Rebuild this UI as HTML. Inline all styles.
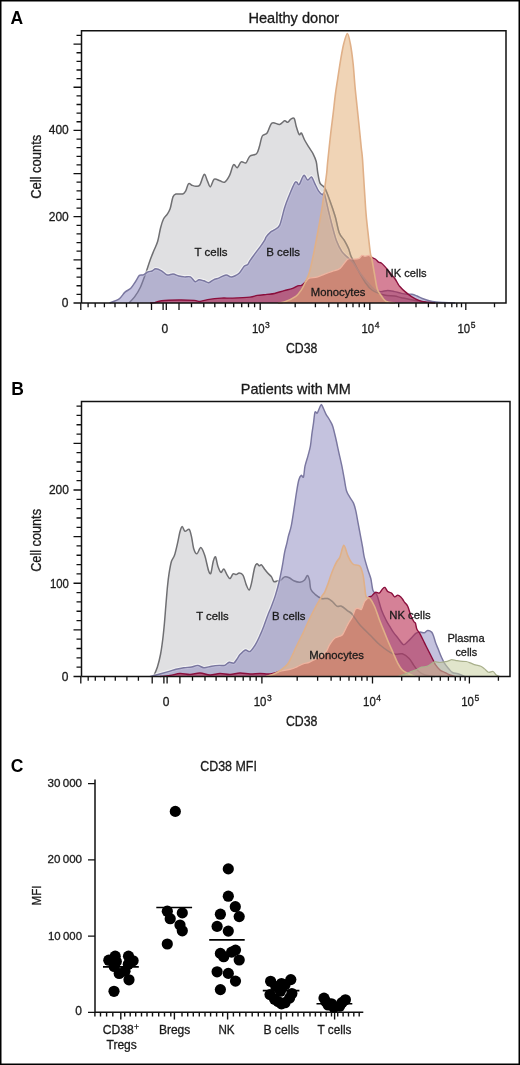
<!DOCTYPE html>
<html><head><meta charset="utf-8"><title>Figure</title>
<style>
html,body{margin:0;padding:0;background:#fff;}
body{width:520px;height:1065px;overflow:hidden;}
svg{display:block;font-family:"Liberation Sans", sans-serif;}
text{opacity:0.999;}
</style></head>
<body>
<svg width="520" height="1065" viewBox="0 0 520 1065">
<rect x="0.75" y="0.75" width="518.5" height="1063.5" fill="#fff" stroke="#000" stroke-width="1.5"/>
<clipPath id="moA"><path d="M278.00,303.0 L278.00,303.00 C278.99,302.84 281.35,303.07 284.20,302.00 C287.05,300.93 293.03,298.28 295.80,296.30 C298.57,294.32 300.03,291.73 301.50,289.60 C302.97,287.47 303.72,285.82 305.00,283.00 C306.28,280.18 308.06,276.96 309.50,272.00 C310.94,267.04 312.64,258.56 314.00,252.00 C315.36,245.44 316.72,238.04 318.00,231.00 C319.28,223.96 320.88,215.20 322.00,208.00 C323.12,200.80 324.23,191.76 325.00,186.00 C325.77,180.24 326.37,175.92 326.80,172.00 C327.23,168.08 327.06,167.79 327.70,161.50 C328.34,155.21 329.94,140.27 330.80,132.70 C331.66,125.13 332.36,120.36 333.10,114.20 C333.84,108.04 334.66,99.86 335.40,94.20 C336.14,88.54 336.84,84.46 337.70,78.80 C338.56,73.14 339.82,64.45 340.80,58.80 C341.78,53.15 342.74,47.55 343.80,43.50 C344.86,39.45 346.36,33.50 347.40,33.50 C348.44,33.50 349.39,38.70 350.30,43.50 C351.21,48.30 352.35,56.62 353.10,63.50 C353.85,70.38 354.39,79.86 355.00,86.50 C355.61,93.14 356.26,98.84 356.90,105.00 C357.54,111.16 358.30,118.12 359.00,125.00 C359.70,131.88 360.72,142.34 361.30,148.00 C361.88,153.66 361.90,150.54 362.60,160.40 C363.30,170.26 364.84,198.03 365.70,209.60 C366.56,221.17 367.25,225.69 368.00,232.70 C368.75,239.71 369.81,249.35 370.40,253.40 C370.99,257.45 371.03,254.61 371.70,258.00 C372.37,261.39 373.70,269.64 374.60,274.60 C375.50,279.56 376.23,285.61 377.30,289.00 C378.37,292.39 379.88,293.80 381.30,295.80 C382.72,297.80 384.01,300.35 386.20,301.50 C388.39,302.65 393.59,302.76 395.00,303.00 L395.00,303.0 Z"/></clipPath>
<mask id="nomoA"><rect x="0" y="0" width="520" height="1065" fill="#fff"/><path d="M278.00,303.0 L278.00,303.00 C278.99,302.84 281.35,303.07 284.20,302.00 C287.05,300.93 293.03,298.28 295.80,296.30 C298.57,294.32 300.03,291.73 301.50,289.60 C302.97,287.47 303.72,285.82 305.00,283.00 C306.28,280.18 308.06,276.96 309.50,272.00 C310.94,267.04 312.64,258.56 314.00,252.00 C315.36,245.44 316.72,238.04 318.00,231.00 C319.28,223.96 320.88,215.20 322.00,208.00 C323.12,200.80 324.23,191.76 325.00,186.00 C325.77,180.24 326.37,175.92 326.80,172.00 C327.23,168.08 327.06,167.79 327.70,161.50 C328.34,155.21 329.94,140.27 330.80,132.70 C331.66,125.13 332.36,120.36 333.10,114.20 C333.84,108.04 334.66,99.86 335.40,94.20 C336.14,88.54 336.84,84.46 337.70,78.80 C338.56,73.14 339.82,64.45 340.80,58.80 C341.78,53.15 342.74,47.55 343.80,43.50 C344.86,39.45 346.36,33.50 347.40,33.50 C348.44,33.50 349.39,38.70 350.30,43.50 C351.21,48.30 352.35,56.62 353.10,63.50 C353.85,70.38 354.39,79.86 355.00,86.50 C355.61,93.14 356.26,98.84 356.90,105.00 C357.54,111.16 358.30,118.12 359.00,125.00 C359.70,131.88 360.72,142.34 361.30,148.00 C361.88,153.66 361.90,150.54 362.60,160.40 C363.30,170.26 364.84,198.03 365.70,209.60 C366.56,221.17 367.25,225.69 368.00,232.70 C368.75,239.71 369.81,249.35 370.40,253.40 C370.99,257.45 371.03,254.61 371.70,258.00 C372.37,261.39 373.70,269.64 374.60,274.60 C375.50,279.56 376.23,285.61 377.30,289.00 C378.37,292.39 379.88,293.80 381.30,295.80 C382.72,297.80 384.01,300.35 386.20,301.50 C388.39,302.65 393.59,302.76 395.00,303.00 L395.00,303.0 Z" fill="#000"/></mask>
<path d="M128.80,303.0 L128.80,303.00 C129.73,302.02 132.74,299.41 134.60,296.90 C136.46,294.39 138.54,291.30 140.40,287.30 C142.26,283.30 144.66,276.20 146.20,271.90 C147.74,267.60 148.78,263.78 150.00,260.40 C151.22,257.02 152.57,253.87 153.80,250.80 C155.03,247.73 156.61,244.90 157.70,241.20 C158.79,237.50 159.67,231.25 160.60,227.70 C161.53,224.15 162.43,221.16 163.50,219.00 C164.57,216.84 166.23,215.88 167.30,214.20 C168.37,212.52 169.29,211.27 170.20,208.50 C171.11,205.73 172.07,199.22 173.00,196.90 C173.93,194.58 174.45,194.46 176.00,194.00 C177.55,193.54 181.16,194.45 182.70,194.00 C184.24,193.55 184.67,192.83 185.60,191.20 C186.53,189.57 187.43,184.73 188.50,183.80 C189.57,182.87 191.10,185.00 192.30,185.40 C193.50,185.80 194.80,186.36 196.00,186.30 C197.20,186.24 198.49,186.90 199.80,185.00 C201.11,183.10 202.97,175.01 204.20,174.40 C205.43,173.79 206.51,179.20 207.50,181.20 C208.49,183.20 209.33,187.22 210.40,186.90 C211.47,186.58 212.66,180.18 214.20,179.20 C215.74,178.22 218.30,180.34 220.00,180.80 C221.70,181.26 223.26,182.96 224.80,182.10 C226.34,181.24 228.21,178.17 229.60,175.40 C230.99,172.63 232.27,166.03 233.50,164.80 C234.73,163.57 236.07,168.16 237.30,167.70 C238.53,167.24 239.81,162.67 241.20,161.90 C242.59,161.13 244.62,163.81 246.00,162.90 C247.38,161.99 248.12,157.66 249.80,156.20 C251.48,154.74 254.96,155.35 256.50,153.80 C258.04,152.25 258.47,149.35 259.40,146.50 C260.33,143.65 261.07,138.16 262.30,136.00 C263.53,133.84 265.56,135.06 267.10,133.00 C268.64,130.94 269.90,124.48 271.90,123.10 C273.90,121.72 277.57,124.77 279.60,124.40 C281.63,124.03 283.30,121.14 284.60,120.80 C285.90,120.46 286.71,122.56 287.70,122.30 C288.69,122.04 289.76,119.81 290.80,119.20 C291.84,118.59 293.34,117.38 294.20,118.50 C295.06,119.62 295.40,123.62 296.20,126.20 C297.00,128.78 298.35,133.50 299.20,134.60 C300.05,135.70 300.64,132.24 301.50,133.10 C302.36,133.96 303.37,137.66 304.60,140.00 C305.83,142.34 307.84,145.49 309.20,147.70 C310.56,149.91 311.98,151.59 313.10,153.80 C314.22,156.01 315.46,158.54 316.20,161.50 C316.94,164.46 317.09,168.84 317.70,172.30 C318.31,175.76 318.90,180.64 320.00,183.10 C321.10,185.56 323.03,184.93 324.60,187.70 C326.17,190.47 328.10,195.79 329.80,200.40 C331.50,205.01 333.70,211.33 335.20,216.50 C336.70,221.67 337.70,228.81 339.20,232.70 C340.70,236.59 343.10,238.22 344.60,240.80 C346.10,243.38 347.53,246.22 348.60,248.80 C349.67,251.38 349.80,253.51 351.30,256.90 C352.80,260.29 355.81,265.98 358.00,270.00 C360.19,274.02 362.76,278.80 365.00,282.00 C367.24,285.20 368.93,287.92 372.00,290.00 C375.07,292.08 380.58,294.04 384.20,295.00 C387.82,295.96 391.83,295.57 394.60,296.00 C397.37,296.43 398.24,296.98 401.50,297.70 C404.76,298.42 410.44,299.73 415.00,300.50 C419.56,301.27 425.20,302.10 430.00,302.50 C434.80,302.90 442.60,302.92 445.00,303.00 L445.00,303.0 Z" fill="#e0e0e2"/>
<path d="M128.80,303.00 C129.73,302.02 132.74,299.41 134.60,296.90 C136.46,294.39 138.54,291.30 140.40,287.30 C142.26,283.30 144.66,276.20 146.20,271.90 C147.74,267.60 148.78,263.78 150.00,260.40 C151.22,257.02 152.57,253.87 153.80,250.80 C155.03,247.73 156.61,244.90 157.70,241.20 C158.79,237.50 159.67,231.25 160.60,227.70 C161.53,224.15 162.43,221.16 163.50,219.00 C164.57,216.84 166.23,215.88 167.30,214.20 C168.37,212.52 169.29,211.27 170.20,208.50 C171.11,205.73 172.07,199.22 173.00,196.90 C173.93,194.58 174.45,194.46 176.00,194.00 C177.55,193.54 181.16,194.45 182.70,194.00 C184.24,193.55 184.67,192.83 185.60,191.20 C186.53,189.57 187.43,184.73 188.50,183.80 C189.57,182.87 191.10,185.00 192.30,185.40 C193.50,185.80 194.80,186.36 196.00,186.30 C197.20,186.24 198.49,186.90 199.80,185.00 C201.11,183.10 202.97,175.01 204.20,174.40 C205.43,173.79 206.51,179.20 207.50,181.20 C208.49,183.20 209.33,187.22 210.40,186.90 C211.47,186.58 212.66,180.18 214.20,179.20 C215.74,178.22 218.30,180.34 220.00,180.80 C221.70,181.26 223.26,182.96 224.80,182.10 C226.34,181.24 228.21,178.17 229.60,175.40 C230.99,172.63 232.27,166.03 233.50,164.80 C234.73,163.57 236.07,168.16 237.30,167.70 C238.53,167.24 239.81,162.67 241.20,161.90 C242.59,161.13 244.62,163.81 246.00,162.90 C247.38,161.99 248.12,157.66 249.80,156.20 C251.48,154.74 254.96,155.35 256.50,153.80 C258.04,152.25 258.47,149.35 259.40,146.50 C260.33,143.65 261.07,138.16 262.30,136.00 C263.53,133.84 265.56,135.06 267.10,133.00 C268.64,130.94 269.90,124.48 271.90,123.10 C273.90,121.72 277.57,124.77 279.60,124.40 C281.63,124.03 283.30,121.14 284.60,120.80 C285.90,120.46 286.71,122.56 287.70,122.30 C288.69,122.04 289.76,119.81 290.80,119.20 C291.84,118.59 293.34,117.38 294.20,118.50 C295.06,119.62 295.40,123.62 296.20,126.20 C297.00,128.78 298.35,133.50 299.20,134.60 C300.05,135.70 300.64,132.24 301.50,133.10 C302.36,133.96 303.37,137.66 304.60,140.00 C305.83,142.34 307.84,145.49 309.20,147.70 C310.56,149.91 311.98,151.59 313.10,153.80 C314.22,156.01 315.46,158.54 316.20,161.50 C316.94,164.46 317.09,168.84 317.70,172.30 C318.31,175.76 318.90,180.64 320.00,183.10 C321.10,185.56 323.03,184.93 324.60,187.70 C326.17,190.47 328.10,195.79 329.80,200.40 C331.50,205.01 333.70,211.33 335.20,216.50 C336.70,221.67 337.70,228.81 339.20,232.70 C340.70,236.59 343.10,238.22 344.60,240.80 C346.10,243.38 347.53,246.22 348.60,248.80 C349.67,251.38 349.80,253.51 351.30,256.90 C352.80,260.29 355.81,265.98 358.00,270.00 C360.19,274.02 362.76,278.80 365.00,282.00 C367.24,285.20 368.93,287.92 372.00,290.00 C375.07,292.08 380.58,294.04 384.20,295.00 C387.82,295.96 391.83,295.57 394.60,296.00 C397.37,296.43 398.24,296.98 401.50,297.70 C404.76,298.42 410.44,299.73 415.00,300.50 C419.56,301.27 425.20,302.10 430.00,302.50 C434.80,302.90 442.60,302.92 445.00,303.00" fill="none" stroke="#6f6f72" stroke-width="1.5" stroke-linejoin="round"/>
<path d="M109.60,303.00 C111.14,302.33 116.74,300.54 119.20,298.80 C121.66,297.06 123.14,293.78 125.00,292.10 C126.86,290.42 129.10,290.00 130.80,288.30 C132.50,286.60 134.22,283.56 135.60,281.50 C136.98,279.44 138.17,276.47 139.40,275.40 C140.63,274.33 141.92,275.36 143.30,274.80 C144.68,274.24 146.61,272.51 148.00,271.90 C149.39,271.29 150.75,271.50 152.00,271.00 C153.25,270.50 154.28,268.83 155.80,268.80 C157.32,268.77 159.66,269.81 161.50,270.80 C163.34,271.79 165.44,274.49 167.30,275.00 C169.16,275.51 171.26,273.84 173.10,274.00 C174.94,274.16 176.96,275.54 178.80,276.00 C180.64,276.46 182.74,276.76 184.60,276.90 C186.46,277.04 188.70,276.13 190.40,276.90 C192.10,277.67 193.82,281.24 195.20,281.70 C196.58,282.16 197.62,279.94 199.00,279.80 C200.38,279.66 202.25,280.34 203.80,280.80 C205.35,281.26 207.15,282.86 208.70,282.70 C210.25,282.54 211.82,280.57 213.50,279.80 C215.18,279.03 217.20,278.67 219.20,277.90 C221.20,277.13 224.14,275.16 226.00,275.00 C227.86,274.84 229.42,276.74 230.80,276.90 C232.18,277.06 233.22,276.62 234.60,276.00 C235.98,275.38 237.86,274.55 239.40,273.00 C240.94,271.45 242.87,267.64 244.20,266.30 C245.53,264.96 246.77,265.51 247.70,264.60 C248.63,263.69 248.77,262.44 250.00,260.60 C251.23,258.76 253.61,255.53 255.40,253.10 C257.19,250.67 259.66,247.56 261.20,245.40 C262.74,243.24 264.20,240.96 265.00,239.60 C265.80,238.24 265.27,238.13 266.20,236.90 C267.13,235.67 269.58,232.97 270.80,231.90 C272.02,230.83 272.39,231.24 273.80,230.20 C275.21,229.16 277.87,229.00 279.60,225.40 C281.33,221.80 283.06,212.50 284.60,207.70 C286.14,202.90 287.60,199.34 289.20,195.40 C290.80,191.46 293.37,185.20 294.60,183.10 C295.83,181.00 296.16,182.06 296.90,182.30 C297.64,182.54 298.10,185.70 299.20,184.60 C300.30,183.50 302.44,176.14 303.80,175.40 C305.16,174.66 306.47,179.76 307.70,180.00 C308.93,180.24 310.40,176.40 311.50,176.90 C312.60,177.40 313.48,180.88 314.60,183.10 C315.72,185.32 317.27,188.96 318.50,190.80 C319.73,192.64 321.36,194.09 322.30,194.60 C323.24,195.11 323.41,191.38 324.40,194.00 C325.39,196.62 327.20,205.72 328.50,211.00 C329.80,216.28 331.22,222.23 332.50,227.00 C333.78,231.77 335.00,236.86 336.50,240.80 C338.00,244.74 339.96,248.80 341.90,251.60 C343.84,254.40 346.87,256.59 348.60,258.30 C350.33,260.01 350.88,259.95 352.70,262.30 C354.52,264.65 357.55,269.69 360.00,273.00 C362.45,276.31 365.60,280.28 368.00,283.00 C370.40,285.72 372.95,288.62 375.00,290.00 C377.05,291.38 378.77,291.54 380.80,291.60 C382.83,291.66 385.49,290.40 387.70,290.40 C389.91,290.40 392.39,291.12 394.60,291.60 C396.81,292.08 399.56,292.98 401.50,293.40 C403.44,293.82 405.04,294.07 406.70,294.20 C408.36,294.33 410.24,293.91 411.90,294.20 C413.56,294.49 415.44,295.31 417.10,296.00 C418.76,296.69 420.36,297.73 422.30,298.50 C424.24,299.27 426.99,300.24 429.20,300.80 C431.41,301.36 433.89,301.73 436.10,302.00 C438.31,302.27 439.98,302.34 443.00,302.50 C446.02,302.66 453.08,302.92 455.00,303.00" fill="none" stroke="rgba(255,255,255,0.55)" stroke-width="3.6" stroke-linejoin="round"/>
<path d="M109.60,303.0 L109.60,303.00 C111.14,302.33 116.74,300.54 119.20,298.80 C121.66,297.06 123.14,293.78 125.00,292.10 C126.86,290.42 129.10,290.00 130.80,288.30 C132.50,286.60 134.22,283.56 135.60,281.50 C136.98,279.44 138.17,276.47 139.40,275.40 C140.63,274.33 141.92,275.36 143.30,274.80 C144.68,274.24 146.61,272.51 148.00,271.90 C149.39,271.29 150.75,271.50 152.00,271.00 C153.25,270.50 154.28,268.83 155.80,268.80 C157.32,268.77 159.66,269.81 161.50,270.80 C163.34,271.79 165.44,274.49 167.30,275.00 C169.16,275.51 171.26,273.84 173.10,274.00 C174.94,274.16 176.96,275.54 178.80,276.00 C180.64,276.46 182.74,276.76 184.60,276.90 C186.46,277.04 188.70,276.13 190.40,276.90 C192.10,277.67 193.82,281.24 195.20,281.70 C196.58,282.16 197.62,279.94 199.00,279.80 C200.38,279.66 202.25,280.34 203.80,280.80 C205.35,281.26 207.15,282.86 208.70,282.70 C210.25,282.54 211.82,280.57 213.50,279.80 C215.18,279.03 217.20,278.67 219.20,277.90 C221.20,277.13 224.14,275.16 226.00,275.00 C227.86,274.84 229.42,276.74 230.80,276.90 C232.18,277.06 233.22,276.62 234.60,276.00 C235.98,275.38 237.86,274.55 239.40,273.00 C240.94,271.45 242.87,267.64 244.20,266.30 C245.53,264.96 246.77,265.51 247.70,264.60 C248.63,263.69 248.77,262.44 250.00,260.60 C251.23,258.76 253.61,255.53 255.40,253.10 C257.19,250.67 259.66,247.56 261.20,245.40 C262.74,243.24 264.20,240.96 265.00,239.60 C265.80,238.24 265.27,238.13 266.20,236.90 C267.13,235.67 269.58,232.97 270.80,231.90 C272.02,230.83 272.39,231.24 273.80,230.20 C275.21,229.16 277.87,229.00 279.60,225.40 C281.33,221.80 283.06,212.50 284.60,207.70 C286.14,202.90 287.60,199.34 289.20,195.40 C290.80,191.46 293.37,185.20 294.60,183.10 C295.83,181.00 296.16,182.06 296.90,182.30 C297.64,182.54 298.10,185.70 299.20,184.60 C300.30,183.50 302.44,176.14 303.80,175.40 C305.16,174.66 306.47,179.76 307.70,180.00 C308.93,180.24 310.40,176.40 311.50,176.90 C312.60,177.40 313.48,180.88 314.60,183.10 C315.72,185.32 317.27,188.96 318.50,190.80 C319.73,192.64 321.36,194.09 322.30,194.60 C323.24,195.11 323.41,191.38 324.40,194.00 C325.39,196.62 327.20,205.72 328.50,211.00 C329.80,216.28 331.22,222.23 332.50,227.00 C333.78,231.77 335.00,236.86 336.50,240.80 C338.00,244.74 339.96,248.80 341.90,251.60 C343.84,254.40 346.87,256.59 348.60,258.30 C350.33,260.01 350.88,259.95 352.70,262.30 C354.52,264.65 357.55,269.69 360.00,273.00 C362.45,276.31 365.60,280.28 368.00,283.00 C370.40,285.72 372.95,288.62 375.00,290.00 C377.05,291.38 378.77,291.54 380.80,291.60 C382.83,291.66 385.49,290.40 387.70,290.40 C389.91,290.40 392.39,291.12 394.60,291.60 C396.81,292.08 399.56,292.98 401.50,293.40 C403.44,293.82 405.04,294.07 406.70,294.20 C408.36,294.33 410.24,293.91 411.90,294.20 C413.56,294.49 415.44,295.31 417.10,296.00 C418.76,296.69 420.36,297.73 422.30,298.50 C424.24,299.27 426.99,300.24 429.20,300.80 C431.41,301.36 433.89,301.73 436.10,302.00 C438.31,302.27 439.98,302.34 443.00,302.50 C446.02,302.66 453.08,302.92 455.00,303.00 L455.00,303.0 Z" fill="rgba(132,128,186,0.48)"/>
<path d="M109.60,303.00 C111.14,302.33 116.74,300.54 119.20,298.80 C121.66,297.06 123.14,293.78 125.00,292.10 C126.86,290.42 129.10,290.00 130.80,288.30 C132.50,286.60 134.22,283.56 135.60,281.50 C136.98,279.44 138.17,276.47 139.40,275.40 C140.63,274.33 141.92,275.36 143.30,274.80 C144.68,274.24 146.61,272.51 148.00,271.90 C149.39,271.29 150.75,271.50 152.00,271.00 C153.25,270.50 154.28,268.83 155.80,268.80 C157.32,268.77 159.66,269.81 161.50,270.80 C163.34,271.79 165.44,274.49 167.30,275.00 C169.16,275.51 171.26,273.84 173.10,274.00 C174.94,274.16 176.96,275.54 178.80,276.00 C180.64,276.46 182.74,276.76 184.60,276.90 C186.46,277.04 188.70,276.13 190.40,276.90 C192.10,277.67 193.82,281.24 195.20,281.70 C196.58,282.16 197.62,279.94 199.00,279.80 C200.38,279.66 202.25,280.34 203.80,280.80 C205.35,281.26 207.15,282.86 208.70,282.70 C210.25,282.54 211.82,280.57 213.50,279.80 C215.18,279.03 217.20,278.67 219.20,277.90 C221.20,277.13 224.14,275.16 226.00,275.00 C227.86,274.84 229.42,276.74 230.80,276.90 C232.18,277.06 233.22,276.62 234.60,276.00 C235.98,275.38 237.86,274.55 239.40,273.00 C240.94,271.45 242.87,267.64 244.20,266.30 C245.53,264.96 246.77,265.51 247.70,264.60 C248.63,263.69 248.77,262.44 250.00,260.60 C251.23,258.76 253.61,255.53 255.40,253.10 C257.19,250.67 259.66,247.56 261.20,245.40 C262.74,243.24 264.20,240.96 265.00,239.60 C265.80,238.24 265.27,238.13 266.20,236.90 C267.13,235.67 269.58,232.97 270.80,231.90 C272.02,230.83 272.39,231.24 273.80,230.20 C275.21,229.16 277.87,229.00 279.60,225.40 C281.33,221.80 283.06,212.50 284.60,207.70 C286.14,202.90 287.60,199.34 289.20,195.40 C290.80,191.46 293.37,185.20 294.60,183.10 C295.83,181.00 296.16,182.06 296.90,182.30 C297.64,182.54 298.10,185.70 299.20,184.60 C300.30,183.50 302.44,176.14 303.80,175.40 C305.16,174.66 306.47,179.76 307.70,180.00 C308.93,180.24 310.40,176.40 311.50,176.90 C312.60,177.40 313.48,180.88 314.60,183.10 C315.72,185.32 317.27,188.96 318.50,190.80 C319.73,192.64 321.36,194.09 322.30,194.60 C323.24,195.11 323.41,191.38 324.40,194.00 C325.39,196.62 327.20,205.72 328.50,211.00 C329.80,216.28 331.22,222.23 332.50,227.00 C333.78,231.77 335.00,236.86 336.50,240.80 C338.00,244.74 339.96,248.80 341.90,251.60 C343.84,254.40 346.87,256.59 348.60,258.30 C350.33,260.01 350.88,259.95 352.70,262.30 C354.52,264.65 357.55,269.69 360.00,273.00 C362.45,276.31 365.60,280.28 368.00,283.00 C370.40,285.72 372.95,288.62 375.00,290.00 C377.05,291.38 378.77,291.54 380.80,291.60 C382.83,291.66 385.49,290.40 387.70,290.40 C389.91,290.40 392.39,291.12 394.60,291.60 C396.81,292.08 399.56,292.98 401.50,293.40 C403.44,293.82 405.04,294.07 406.70,294.20 C408.36,294.33 410.24,293.91 411.90,294.20 C413.56,294.49 415.44,295.31 417.10,296.00 C418.76,296.69 420.36,297.73 422.30,298.50 C424.24,299.27 426.99,300.24 429.20,300.80 C431.41,301.36 433.89,301.73 436.10,302.00 C438.31,302.27 439.98,302.34 443.00,302.50 C446.02,302.66 453.08,302.92 455.00,303.00" fill="none" stroke="#7a77a0" stroke-width="1.45" stroke-linejoin="round"/>
<path d="M150.00,303.0 L150.00,303.00 C150.80,302.94 153.16,302.95 155.00,302.60 C156.84,302.25 157.69,301.22 161.50,300.80 C165.31,300.38 173.57,300.06 178.80,300.00 C184.03,299.94 190.81,300.16 194.20,300.40 C197.59,300.64 197.84,301.63 200.00,301.50 C202.16,301.37 204.31,300.14 207.70,299.60 C211.09,299.06 217.20,298.34 221.20,298.10 C225.20,297.86 228.09,298.26 232.70,298.10 C237.31,297.94 246.06,297.53 250.00,297.10 C253.94,296.67 254.60,295.83 257.30,295.40 C260.00,294.97 264.13,294.70 266.90,294.40 C269.67,294.10 271.83,294.11 274.60,293.50 C277.37,292.89 281.43,291.37 284.20,290.60 C286.97,289.83 289.74,289.47 291.90,288.70 C294.06,287.93 296.16,286.33 297.70,285.80 C299.24,285.27 300.27,286.02 301.50,285.40 C302.73,284.78 304.17,283.07 305.40,281.90 C306.63,280.73 307.36,278.87 309.20,278.10 C311.04,277.33 314.44,277.72 316.90,277.10 C319.36,276.48 322.14,275.13 324.60,274.20 C327.06,273.27 329.84,272.21 332.30,271.30 C334.76,270.39 337.54,270.44 340.00,268.50 C342.46,266.56 345.54,260.69 347.70,259.20 C349.86,257.71 351.66,259.34 353.50,259.20 C355.34,259.06 357.84,258.91 359.20,258.30 C360.56,257.69 361.07,255.72 362.00,255.40 C362.93,255.08 363.91,256.30 365.00,256.30 C366.09,256.30 367.73,255.24 368.80,255.40 C369.87,255.56 370.61,256.69 371.70,257.30 C372.79,257.91 374.51,258.43 375.60,259.20 C376.69,259.97 377.59,261.49 378.50,262.10 C379.41,262.71 380.23,262.23 381.30,263.00 C382.37,263.77 383.81,265.35 385.20,266.90 C386.59,268.45 388.46,270.84 390.00,272.70 C391.54,274.56 393.52,276.72 394.80,278.50 C396.08,280.28 397.23,282.57 398.00,283.80 C398.77,285.03 398.48,284.95 399.60,286.20 C400.72,287.45 403.03,289.90 405.00,291.60 C406.97,293.30 409.69,295.41 411.90,296.80 C414.11,298.19 416.59,299.47 418.80,300.30 C421.01,301.13 423.11,301.57 425.70,302.00 C428.29,302.43 433.51,302.84 435.00,303.00 L435.00,303.0 Z" fill="rgba(180,30,70,0.56)"/>
<path d="M278.00,303.0 L278.00,303.00 C278.99,302.84 281.35,303.07 284.20,302.00 C287.05,300.93 293.03,298.28 295.80,296.30 C298.57,294.32 300.03,291.73 301.50,289.60 C302.97,287.47 303.72,285.82 305.00,283.00 C306.28,280.18 308.06,276.96 309.50,272.00 C310.94,267.04 312.64,258.56 314.00,252.00 C315.36,245.44 316.72,238.04 318.00,231.00 C319.28,223.96 320.88,215.20 322.00,208.00 C323.12,200.80 324.23,191.76 325.00,186.00 C325.77,180.24 326.37,175.92 326.80,172.00 C327.23,168.08 327.06,167.79 327.70,161.50 C328.34,155.21 329.94,140.27 330.80,132.70 C331.66,125.13 332.36,120.36 333.10,114.20 C333.84,108.04 334.66,99.86 335.40,94.20 C336.14,88.54 336.84,84.46 337.70,78.80 C338.56,73.14 339.82,64.45 340.80,58.80 C341.78,53.15 342.74,47.55 343.80,43.50 C344.86,39.45 346.36,33.50 347.40,33.50 C348.44,33.50 349.39,38.70 350.30,43.50 C351.21,48.30 352.35,56.62 353.10,63.50 C353.85,70.38 354.39,79.86 355.00,86.50 C355.61,93.14 356.26,98.84 356.90,105.00 C357.54,111.16 358.30,118.12 359.00,125.00 C359.70,131.88 360.72,142.34 361.30,148.00 C361.88,153.66 361.90,150.54 362.60,160.40 C363.30,170.26 364.84,198.03 365.70,209.60 C366.56,221.17 367.25,225.69 368.00,232.70 C368.75,239.71 369.81,249.35 370.40,253.40 C370.99,257.45 371.03,254.61 371.70,258.00 C372.37,261.39 373.70,269.64 374.60,274.60 C375.50,279.56 376.23,285.61 377.30,289.00 C378.37,292.39 379.88,293.80 381.30,295.80 C382.72,297.80 384.01,300.35 386.20,301.50 C388.39,302.65 393.59,302.76 395.00,303.00 L395.00,303.0 Z" fill="rgba(230,182,131,0.59)"/>
<path d="M150.00,303.0 L150.00,303.00 C150.80,302.94 153.16,302.95 155.00,302.60 C156.84,302.25 157.69,301.22 161.50,300.80 C165.31,300.38 173.57,300.06 178.80,300.00 C184.03,299.94 190.81,300.16 194.20,300.40 C197.59,300.64 197.84,301.63 200.00,301.50 C202.16,301.37 204.31,300.14 207.70,299.60 C211.09,299.06 217.20,298.34 221.20,298.10 C225.20,297.86 228.09,298.26 232.70,298.10 C237.31,297.94 246.06,297.53 250.00,297.10 C253.94,296.67 254.60,295.83 257.30,295.40 C260.00,294.97 264.13,294.70 266.90,294.40 C269.67,294.10 271.83,294.11 274.60,293.50 C277.37,292.89 281.43,291.37 284.20,290.60 C286.97,289.83 289.74,289.47 291.90,288.70 C294.06,287.93 296.16,286.33 297.70,285.80 C299.24,285.27 300.27,286.02 301.50,285.40 C302.73,284.78 304.17,283.07 305.40,281.90 C306.63,280.73 307.36,278.87 309.20,278.10 C311.04,277.33 314.44,277.72 316.90,277.10 C319.36,276.48 322.14,275.13 324.60,274.20 C327.06,273.27 329.84,272.21 332.30,271.30 C334.76,270.39 337.54,270.44 340.00,268.50 C342.46,266.56 345.54,260.69 347.70,259.20 C349.86,257.71 351.66,259.34 353.50,259.20 C355.34,259.06 357.84,258.91 359.20,258.30 C360.56,257.69 361.07,255.72 362.00,255.40 C362.93,255.08 363.91,256.30 365.00,256.30 C366.09,256.30 367.73,255.24 368.80,255.40 C369.87,255.56 370.61,256.69 371.70,257.30 C372.79,257.91 374.51,258.43 375.60,259.20 C376.69,259.97 377.59,261.49 378.50,262.10 C379.41,262.71 380.23,262.23 381.30,263.00 C382.37,263.77 383.81,265.35 385.20,266.90 C386.59,268.45 388.46,270.84 390.00,272.70 C391.54,274.56 393.52,276.72 394.80,278.50 C396.08,280.28 397.23,282.57 398.00,283.80 C398.77,285.03 398.48,284.95 399.60,286.20 C400.72,287.45 403.03,289.90 405.00,291.60 C406.97,293.30 409.69,295.41 411.90,296.80 C414.11,298.19 416.59,299.47 418.80,300.30 C421.01,301.13 423.11,301.57 425.70,302.00 C428.29,302.43 433.51,302.84 435.00,303.00 L435.00,303.0 Z" fill="rgba(203,133,116,0.82)" clip-path="url(#moA)"/>
<path d="M150.00,303.00 C150.80,302.94 153.16,302.95 155.00,302.60 C156.84,302.25 157.69,301.22 161.50,300.80 C165.31,300.38 173.57,300.06 178.80,300.00 C184.03,299.94 190.81,300.16 194.20,300.40 C197.59,300.64 197.84,301.63 200.00,301.50 C202.16,301.37 204.31,300.14 207.70,299.60 C211.09,299.06 217.20,298.34 221.20,298.10 C225.20,297.86 228.09,298.26 232.70,298.10 C237.31,297.94 246.06,297.53 250.00,297.10 C253.94,296.67 254.60,295.83 257.30,295.40 C260.00,294.97 264.13,294.70 266.90,294.40 C269.67,294.10 271.83,294.11 274.60,293.50 C277.37,292.89 281.43,291.37 284.20,290.60 C286.97,289.83 289.74,289.47 291.90,288.70 C294.06,287.93 296.16,286.33 297.70,285.80 C299.24,285.27 300.27,286.02 301.50,285.40 C302.73,284.78 304.17,283.07 305.40,281.90 C306.63,280.73 307.36,278.87 309.20,278.10 C311.04,277.33 314.44,277.72 316.90,277.10 C319.36,276.48 322.14,275.13 324.60,274.20 C327.06,273.27 329.84,272.21 332.30,271.30 C334.76,270.39 337.54,270.44 340.00,268.50 C342.46,266.56 345.54,260.69 347.70,259.20 C349.86,257.71 351.66,259.34 353.50,259.20 C355.34,259.06 357.84,258.91 359.20,258.30 C360.56,257.69 361.07,255.72 362.00,255.40 C362.93,255.08 363.91,256.30 365.00,256.30 C366.09,256.30 367.73,255.24 368.80,255.40 C369.87,255.56 370.61,256.69 371.70,257.30 C372.79,257.91 374.51,258.43 375.60,259.20 C376.69,259.97 377.59,261.49 378.50,262.10 C379.41,262.71 380.23,262.23 381.30,263.00 C382.37,263.77 383.81,265.35 385.20,266.90 C386.59,268.45 388.46,270.84 390.00,272.70 C391.54,274.56 393.52,276.72 394.80,278.50 C396.08,280.28 397.23,282.57 398.00,283.80 C398.77,285.03 398.48,284.95 399.60,286.20 C400.72,287.45 403.03,289.90 405.00,291.60 C406.97,293.30 409.69,295.41 411.90,296.80 C414.11,298.19 416.59,299.47 418.80,300.30 C421.01,301.13 423.11,301.57 425.70,302.00 C428.29,302.43 433.51,302.84 435.00,303.00" fill="none" stroke="#8a0e3c" stroke-width="1.4" stroke-linejoin="round" mask="url(#nomoA)"/>
<path d="M150.00,303.00 C150.80,302.94 153.16,302.95 155.00,302.60 C156.84,302.25 157.69,301.22 161.50,300.80 C165.31,300.38 173.57,300.06 178.80,300.00 C184.03,299.94 190.81,300.16 194.20,300.40 C197.59,300.64 197.84,301.63 200.00,301.50 C202.16,301.37 204.31,300.14 207.70,299.60 C211.09,299.06 217.20,298.34 221.20,298.10 C225.20,297.86 228.09,298.26 232.70,298.10 C237.31,297.94 246.06,297.53 250.00,297.10 C253.94,296.67 254.60,295.83 257.30,295.40 C260.00,294.97 264.13,294.70 266.90,294.40 C269.67,294.10 271.83,294.11 274.60,293.50 C277.37,292.89 281.43,291.37 284.20,290.60 C286.97,289.83 289.74,289.47 291.90,288.70 C294.06,287.93 296.16,286.33 297.70,285.80 C299.24,285.27 300.27,286.02 301.50,285.40 C302.73,284.78 304.17,283.07 305.40,281.90 C306.63,280.73 307.36,278.87 309.20,278.10 C311.04,277.33 314.44,277.72 316.90,277.10 C319.36,276.48 322.14,275.13 324.60,274.20 C327.06,273.27 329.84,272.21 332.30,271.30 C334.76,270.39 337.54,270.44 340.00,268.50 C342.46,266.56 345.54,260.69 347.70,259.20 C349.86,257.71 351.66,259.34 353.50,259.20 C355.34,259.06 357.84,258.91 359.20,258.30 C360.56,257.69 361.07,255.72 362.00,255.40 C362.93,255.08 363.91,256.30 365.00,256.30 C366.09,256.30 367.73,255.24 368.80,255.40 C369.87,255.56 370.61,256.69 371.70,257.30 C372.79,257.91 374.51,258.43 375.60,259.20 C376.69,259.97 377.59,261.49 378.50,262.10 C379.41,262.71 380.23,262.23 381.30,263.00 C382.37,263.77 383.81,265.35 385.20,266.90 C386.59,268.45 388.46,270.84 390.00,272.70 C391.54,274.56 393.52,276.72 394.80,278.50 C396.08,280.28 397.23,282.57 398.00,283.80 C398.77,285.03 398.48,284.95 399.60,286.20 C400.72,287.45 403.03,289.90 405.00,291.60 C406.97,293.30 409.69,295.41 411.90,296.80 C414.11,298.19 416.59,299.47 418.80,300.30 C421.01,301.13 423.11,301.57 425.70,302.00 C428.29,302.43 433.51,302.84 435.00,303.00" fill="none" stroke="#efb4a0" stroke-width="1.3" stroke-linejoin="round" clip-path="url(#moA)"/>
<g clip-path="url(#moA)" opacity="0.4"><path d="M128.80,303.00 C129.73,302.02 132.74,299.41 134.60,296.90 C136.46,294.39 138.54,291.30 140.40,287.30 C142.26,283.30 144.66,276.20 146.20,271.90 C147.74,267.60 148.78,263.78 150.00,260.40 C151.22,257.02 152.57,253.87 153.80,250.80 C155.03,247.73 156.61,244.90 157.70,241.20 C158.79,237.50 159.67,231.25 160.60,227.70 C161.53,224.15 162.43,221.16 163.50,219.00 C164.57,216.84 166.23,215.88 167.30,214.20 C168.37,212.52 169.29,211.27 170.20,208.50 C171.11,205.73 172.07,199.22 173.00,196.90 C173.93,194.58 174.45,194.46 176.00,194.00 C177.55,193.54 181.16,194.45 182.70,194.00 C184.24,193.55 184.67,192.83 185.60,191.20 C186.53,189.57 187.43,184.73 188.50,183.80 C189.57,182.87 191.10,185.00 192.30,185.40 C193.50,185.80 194.80,186.36 196.00,186.30 C197.20,186.24 198.49,186.90 199.80,185.00 C201.11,183.10 202.97,175.01 204.20,174.40 C205.43,173.79 206.51,179.20 207.50,181.20 C208.49,183.20 209.33,187.22 210.40,186.90 C211.47,186.58 212.66,180.18 214.20,179.20 C215.74,178.22 218.30,180.34 220.00,180.80 C221.70,181.26 223.26,182.96 224.80,182.10 C226.34,181.24 228.21,178.17 229.60,175.40 C230.99,172.63 232.27,166.03 233.50,164.80 C234.73,163.57 236.07,168.16 237.30,167.70 C238.53,167.24 239.81,162.67 241.20,161.90 C242.59,161.13 244.62,163.81 246.00,162.90 C247.38,161.99 248.12,157.66 249.80,156.20 C251.48,154.74 254.96,155.35 256.50,153.80 C258.04,152.25 258.47,149.35 259.40,146.50 C260.33,143.65 261.07,138.16 262.30,136.00 C263.53,133.84 265.56,135.06 267.10,133.00 C268.64,130.94 269.90,124.48 271.90,123.10 C273.90,121.72 277.57,124.77 279.60,124.40 C281.63,124.03 283.30,121.14 284.60,120.80 C285.90,120.46 286.71,122.56 287.70,122.30 C288.69,122.04 289.76,119.81 290.80,119.20 C291.84,118.59 293.34,117.38 294.20,118.50 C295.06,119.62 295.40,123.62 296.20,126.20 C297.00,128.78 298.35,133.50 299.20,134.60 C300.05,135.70 300.64,132.24 301.50,133.10 C302.36,133.96 303.37,137.66 304.60,140.00 C305.83,142.34 307.84,145.49 309.20,147.70 C310.56,149.91 311.98,151.59 313.10,153.80 C314.22,156.01 315.46,158.54 316.20,161.50 C316.94,164.46 317.09,168.84 317.70,172.30 C318.31,175.76 318.90,180.64 320.00,183.10 C321.10,185.56 323.03,184.93 324.60,187.70 C326.17,190.47 328.10,195.79 329.80,200.40 C331.50,205.01 333.70,211.33 335.20,216.50 C336.70,221.67 337.70,228.81 339.20,232.70 C340.70,236.59 343.10,238.22 344.60,240.80 C346.10,243.38 347.53,246.22 348.60,248.80 C349.67,251.38 349.80,253.51 351.30,256.90 C352.80,260.29 355.81,265.98 358.00,270.00 C360.19,274.02 362.76,278.80 365.00,282.00 C367.24,285.20 368.93,287.92 372.00,290.00 C375.07,292.08 380.58,294.04 384.20,295.00 C387.82,295.96 391.83,295.57 394.60,296.00 C397.37,296.43 398.24,296.98 401.50,297.70 C404.76,298.42 410.44,299.73 415.00,300.50 C419.56,301.27 425.20,302.10 430.00,302.50 C434.80,302.90 442.60,302.92 445.00,303.00" fill="none" stroke="#6f6f72" stroke-width="1.5" stroke-linejoin="round"/><path d="M109.60,303.00 C111.14,302.33 116.74,300.54 119.20,298.80 C121.66,297.06 123.14,293.78 125.00,292.10 C126.86,290.42 129.10,290.00 130.80,288.30 C132.50,286.60 134.22,283.56 135.60,281.50 C136.98,279.44 138.17,276.47 139.40,275.40 C140.63,274.33 141.92,275.36 143.30,274.80 C144.68,274.24 146.61,272.51 148.00,271.90 C149.39,271.29 150.75,271.50 152.00,271.00 C153.25,270.50 154.28,268.83 155.80,268.80 C157.32,268.77 159.66,269.81 161.50,270.80 C163.34,271.79 165.44,274.49 167.30,275.00 C169.16,275.51 171.26,273.84 173.10,274.00 C174.94,274.16 176.96,275.54 178.80,276.00 C180.64,276.46 182.74,276.76 184.60,276.90 C186.46,277.04 188.70,276.13 190.40,276.90 C192.10,277.67 193.82,281.24 195.20,281.70 C196.58,282.16 197.62,279.94 199.00,279.80 C200.38,279.66 202.25,280.34 203.80,280.80 C205.35,281.26 207.15,282.86 208.70,282.70 C210.25,282.54 211.82,280.57 213.50,279.80 C215.18,279.03 217.20,278.67 219.20,277.90 C221.20,277.13 224.14,275.16 226.00,275.00 C227.86,274.84 229.42,276.74 230.80,276.90 C232.18,277.06 233.22,276.62 234.60,276.00 C235.98,275.38 237.86,274.55 239.40,273.00 C240.94,271.45 242.87,267.64 244.20,266.30 C245.53,264.96 246.77,265.51 247.70,264.60 C248.63,263.69 248.77,262.44 250.00,260.60 C251.23,258.76 253.61,255.53 255.40,253.10 C257.19,250.67 259.66,247.56 261.20,245.40 C262.74,243.24 264.20,240.96 265.00,239.60 C265.80,238.24 265.27,238.13 266.20,236.90 C267.13,235.67 269.58,232.97 270.80,231.90 C272.02,230.83 272.39,231.24 273.80,230.20 C275.21,229.16 277.87,229.00 279.60,225.40 C281.33,221.80 283.06,212.50 284.60,207.70 C286.14,202.90 287.60,199.34 289.20,195.40 C290.80,191.46 293.37,185.20 294.60,183.10 C295.83,181.00 296.16,182.06 296.90,182.30 C297.64,182.54 298.10,185.70 299.20,184.60 C300.30,183.50 302.44,176.14 303.80,175.40 C305.16,174.66 306.47,179.76 307.70,180.00 C308.93,180.24 310.40,176.40 311.50,176.90 C312.60,177.40 313.48,180.88 314.60,183.10 C315.72,185.32 317.27,188.96 318.50,190.80 C319.73,192.64 321.36,194.09 322.30,194.60 C323.24,195.11 323.41,191.38 324.40,194.00 C325.39,196.62 327.20,205.72 328.50,211.00 C329.80,216.28 331.22,222.23 332.50,227.00 C333.78,231.77 335.00,236.86 336.50,240.80 C338.00,244.74 339.96,248.80 341.90,251.60 C343.84,254.40 346.87,256.59 348.60,258.30 C350.33,260.01 350.88,259.95 352.70,262.30 C354.52,264.65 357.55,269.69 360.00,273.00 C362.45,276.31 365.60,280.28 368.00,283.00 C370.40,285.72 372.95,288.62 375.00,290.00 C377.05,291.38 378.77,291.54 380.80,291.60 C382.83,291.66 385.49,290.40 387.70,290.40 C389.91,290.40 392.39,291.12 394.60,291.60 C396.81,292.08 399.56,292.98 401.50,293.40 C403.44,293.82 405.04,294.07 406.70,294.20 C408.36,294.33 410.24,293.91 411.90,294.20 C413.56,294.49 415.44,295.31 417.10,296.00 C418.76,296.69 420.36,297.73 422.30,298.50 C424.24,299.27 426.99,300.24 429.20,300.80 C431.41,301.36 433.89,301.73 436.10,302.00 C438.31,302.27 439.98,302.34 443.00,302.50 C446.02,302.66 453.08,302.92 455.00,303.00" fill="none" stroke="#9a8a8e" stroke-width="1.4" stroke-linejoin="round"/></g>
<path d="M278.00,303.00 C278.99,302.84 281.35,303.07 284.20,302.00 C287.05,300.93 293.03,298.28 295.80,296.30 C298.57,294.32 300.03,291.73 301.50,289.60 C302.97,287.47 303.72,285.82 305.00,283.00 C306.28,280.18 308.06,276.96 309.50,272.00 C310.94,267.04 312.64,258.56 314.00,252.00 C315.36,245.44 316.72,238.04 318.00,231.00 C319.28,223.96 320.88,215.20 322.00,208.00 C323.12,200.80 324.23,191.76 325.00,186.00 C325.77,180.24 326.37,175.92 326.80,172.00 C327.23,168.08 327.06,167.79 327.70,161.50 C328.34,155.21 329.94,140.27 330.80,132.70 C331.66,125.13 332.36,120.36 333.10,114.20 C333.84,108.04 334.66,99.86 335.40,94.20 C336.14,88.54 336.84,84.46 337.70,78.80 C338.56,73.14 339.82,64.45 340.80,58.80 C341.78,53.15 342.74,47.55 343.80,43.50 C344.86,39.45 346.36,33.50 347.40,33.50 C348.44,33.50 349.39,38.70 350.30,43.50 C351.21,48.30 352.35,56.62 353.10,63.50 C353.85,70.38 354.39,79.86 355.00,86.50 C355.61,93.14 356.26,98.84 356.90,105.00 C357.54,111.16 358.30,118.12 359.00,125.00 C359.70,131.88 360.72,142.34 361.30,148.00 C361.88,153.66 361.90,150.54 362.60,160.40 C363.30,170.26 364.84,198.03 365.70,209.60 C366.56,221.17 367.25,225.69 368.00,232.70 C368.75,239.71 369.81,249.35 370.40,253.40 C370.99,257.45 371.03,254.61 371.70,258.00 C372.37,261.39 373.70,269.64 374.60,274.60 C375.50,279.56 376.23,285.61 377.30,289.00 C378.37,292.39 379.88,293.80 381.30,295.80 C382.72,297.80 384.01,300.35 386.20,301.50 C388.39,302.65 393.59,302.76 395.00,303.00" fill="none" stroke="#e0b088" stroke-width="1.6" stroke-linejoin="round"/>
<path d="M81.5,303.0 V30.8 H506 V303.0 H81.5" fill="none" stroke="#111" stroke-width="1.5"/>
<path d="M80.8,303.0 V310.0 M151.5,303.0 V310.0 M163.1,303.0 V310.0 M166.3,303.0 V310.0 M179.0,303.0 V310.0 M260.2,303.0 V310.0 M369.8,303.0 V310.0 M465.8,303.0 V310.0 M88.1,303.0 V307.3 M95.2,303.0 V307.3 M104.4,303.0 V307.3 M115.0,303.0 V307.3 M126.5,303.0 V307.3 M137.9,303.0 V307.3 M191.5,303.0 V307.3 M203.8,303.0 V307.3 M214.8,303.0 V307.3 M225.4,303.0 V307.3 M233.7,303.0 V307.3 M241.7,303.0 V307.3 M248.5,303.0 V307.3 M254.6,303.0 V307.3 M295.2,303.0 V307.3 M315.4,303.0 V307.3 M328.8,303.0 V307.3 M337.9,303.0 V307.3 M346.5,303.0 V307.3 M353.0,303.0 V307.3 M359.2,303.0 V307.3 M364.4,303.0 V307.3 M398.7,303.0 V307.3 M416.0,303.0 V307.3 M428.4,303.0 V307.3 M437.0,303.0 V307.3 M445.0,303.0 V307.3 M451.8,303.0 V307.3 M456.8,303.0 V307.3 M461.5,303.0 V307.3 M494.5,303.0 V307.3" stroke="#111" stroke-width="1.3" fill="none"/>
<path d="M73.5,303.00 H81.5 M73.5,259.85 H81.5 M73.5,216.70 H81.5 M73.5,173.55 H81.5 M73.5,130.40 H81.5 M73.5,87.25 H81.5 M73.5,44.10 H81.5 M76.5,294.37 H81.5 M76.5,285.74 H81.5 M76.5,277.11 H81.5 M76.5,268.48 H81.5 M76.5,251.22 H81.5 M76.5,242.59 H81.5 M76.5,233.96 H81.5 M76.5,225.33 H81.5 M76.5,208.07 H81.5 M76.5,199.44 H81.5 M76.5,190.81 H81.5 M76.5,182.18 H81.5 M76.5,164.92 H81.5 M76.5,156.29 H81.5 M76.5,147.66 H81.5 M76.5,139.03 H81.5 M76.5,121.77 H81.5 M76.5,113.14 H81.5 M76.5,104.51 H81.5 M76.5,95.88 H81.5 M76.5,78.62 H81.5 M76.5,69.99 H81.5 M76.5,61.36 H81.5 M76.5,52.73 H81.5 M76.5,35.47 H81.5" stroke="#111" stroke-width="1.3" fill="none"/>
<clipPath id="moB"><path d="M266.00,676.5 L266.00,676.50 C267.38,676.07 272.20,674.84 274.60,673.80 C277.00,672.76 278.97,671.47 281.00,670.00 C283.03,668.53 285.62,666.68 287.30,664.60 C288.98,662.52 290.20,659.58 291.50,657.00 C292.80,654.42 294.20,651.06 295.40,648.50 C296.60,645.94 297.90,643.22 299.00,641.00 C300.10,638.78 301.21,636.84 302.30,634.60 C303.39,632.36 304.70,629.40 305.80,627.00 C306.90,624.60 308.10,621.92 309.20,619.60 C310.30,617.28 311.58,614.71 312.70,612.50 C313.82,610.29 315.10,607.80 316.20,605.80 C317.30,603.80 318.67,601.57 319.60,600.00 C320.53,598.43 321.20,597.23 322.00,596.00 C322.80,594.77 323.69,594.12 324.60,592.30 C325.51,590.48 326.71,587.30 327.70,584.60 C328.69,581.90 329.82,578.10 330.80,575.40 C331.78,572.70 332.82,569.92 333.80,567.70 C334.78,565.48 335.91,563.23 336.90,561.50 C337.89,559.77 338.90,559.48 340.00,556.90 C341.10,554.32 342.57,545.64 343.80,545.40 C345.03,545.16 346.58,552.82 347.70,555.40 C348.82,557.98 349.82,560.03 350.80,561.50 C351.78,562.97 352.33,563.85 353.80,564.60 C355.27,565.35 358.51,564.47 360.00,566.20 C361.49,567.93 362.36,572.20 363.10,575.40 C363.84,578.60 364.10,582.76 364.60,586.20 C365.10,589.64 365.34,594.93 366.20,596.90 C367.06,598.87 368.66,596.96 370.00,598.50 C371.34,600.04 373.13,603.19 374.60,606.50 C376.07,609.81 377.73,615.31 379.20,619.20 C380.67,623.09 382.31,627.10 383.80,630.80 C385.29,634.50 387.01,638.80 388.50,642.30 C389.99,645.80 391.63,649.37 393.10,652.70 C394.57,656.03 396.23,660.33 397.70,663.10 C399.17,665.87 400.64,668.34 402.30,670.00 C403.96,671.66 406.07,672.46 408.10,673.50 C410.13,674.54 413.90,676.02 415.00,676.50 L415.00,676.5 Z"/></clipPath>
<mask id="nomoB"><rect x="0" y="0" width="520" height="1065" fill="#fff"/><path d="M266.00,676.5 L266.00,676.50 C267.38,676.07 272.20,674.84 274.60,673.80 C277.00,672.76 278.97,671.47 281.00,670.00 C283.03,668.53 285.62,666.68 287.30,664.60 C288.98,662.52 290.20,659.58 291.50,657.00 C292.80,654.42 294.20,651.06 295.40,648.50 C296.60,645.94 297.90,643.22 299.00,641.00 C300.10,638.78 301.21,636.84 302.30,634.60 C303.39,632.36 304.70,629.40 305.80,627.00 C306.90,624.60 308.10,621.92 309.20,619.60 C310.30,617.28 311.58,614.71 312.70,612.50 C313.82,610.29 315.10,607.80 316.20,605.80 C317.30,603.80 318.67,601.57 319.60,600.00 C320.53,598.43 321.20,597.23 322.00,596.00 C322.80,594.77 323.69,594.12 324.60,592.30 C325.51,590.48 326.71,587.30 327.70,584.60 C328.69,581.90 329.82,578.10 330.80,575.40 C331.78,572.70 332.82,569.92 333.80,567.70 C334.78,565.48 335.91,563.23 336.90,561.50 C337.89,559.77 338.90,559.48 340.00,556.90 C341.10,554.32 342.57,545.64 343.80,545.40 C345.03,545.16 346.58,552.82 347.70,555.40 C348.82,557.98 349.82,560.03 350.80,561.50 C351.78,562.97 352.33,563.85 353.80,564.60 C355.27,565.35 358.51,564.47 360.00,566.20 C361.49,567.93 362.36,572.20 363.10,575.40 C363.84,578.60 364.10,582.76 364.60,586.20 C365.10,589.64 365.34,594.93 366.20,596.90 C367.06,598.87 368.66,596.96 370.00,598.50 C371.34,600.04 373.13,603.19 374.60,606.50 C376.07,609.81 377.73,615.31 379.20,619.20 C380.67,623.09 382.31,627.10 383.80,630.80 C385.29,634.50 387.01,638.80 388.50,642.30 C389.99,645.80 391.63,649.37 393.10,652.70 C394.57,656.03 396.23,660.33 397.70,663.10 C399.17,665.87 400.64,668.34 402.30,670.00 C403.96,671.66 406.07,672.46 408.10,673.50 C410.13,674.54 413.90,676.02 415.00,676.50 L415.00,676.5 Z" fill="#000"/></mask>
<path d="M153.50,676.5 L153.50,676.50 C154.12,674.98 156.28,670.52 157.40,667.00 C158.52,663.48 159.64,658.98 160.50,654.50 C161.36,650.02 162.18,643.96 162.80,639.00 C163.42,634.04 163.90,628.94 164.40,623.50 C164.90,618.06 165.40,610.95 165.90,605.00 C166.40,599.05 167.00,591.28 167.50,586.30 C168.00,581.32 168.38,577.87 169.00,573.90 C169.62,569.93 170.52,564.48 171.40,561.50 C172.28,558.52 173.51,558.28 174.50,555.30 C175.49,552.32 176.74,546.63 177.60,542.90 C178.46,539.17 179.16,534.61 179.90,532.00 C180.64,529.39 181.38,526.71 182.20,526.60 C183.02,526.49 183.88,530.87 185.00,531.30 C186.12,531.73 188.16,528.44 189.20,529.30 C190.24,530.16 190.76,533.53 191.50,536.70 C192.24,539.87 192.92,546.36 193.80,549.10 C194.68,551.84 195.88,554.04 197.00,553.80 C198.12,553.56 199.57,547.36 200.80,547.60 C202.03,547.84 203.45,551.59 204.70,555.30 C205.95,559.01 207.61,567.95 208.60,570.80 C209.59,573.65 210.16,574.59 210.90,573.10 C211.64,571.61 212.46,564.09 213.20,561.50 C213.94,558.91 214.75,556.15 215.50,556.90 C216.25,557.65 217.02,563.72 217.90,566.20 C218.78,568.68 220.06,571.97 221.00,572.40 C221.94,572.83 222.86,568.55 223.80,568.90 C224.74,569.25 225.91,573.06 226.90,574.60 C227.89,576.14 229.01,578.63 230.00,578.50 C230.99,578.37 232.11,574.42 233.10,573.80 C234.09,573.18 235.22,574.71 236.20,574.60 C237.18,574.49 238.10,572.97 239.20,573.10 C240.30,573.23 241.98,573.56 243.10,575.40 C244.22,577.24 245.22,582.26 246.20,584.60 C247.18,586.94 248.35,590.24 249.20,590.00 C250.05,589.76 250.64,586.67 251.50,583.10 C252.36,579.53 253.74,570.79 254.60,567.70 C255.46,564.61 256.16,564.10 256.90,563.80 C257.64,563.50 258.46,565.62 259.20,565.80 C259.94,565.98 260.64,564.36 261.50,564.90 C262.36,565.44 263.61,567.89 264.60,569.20 C265.59,570.51 266.60,571.87 267.70,573.10 C268.80,574.33 270.52,575.56 271.50,576.90 C272.48,578.24 272.81,580.88 273.80,581.50 C274.79,582.12 276.71,580.91 277.70,580.80 C278.69,580.69 278.90,581.42 280.00,580.80 C281.10,580.18 283.13,577.40 284.60,576.90 C286.07,576.40 287.73,577.08 289.20,577.70 C290.67,578.32 292.07,580.06 293.80,580.80 C295.53,581.54 298.27,582.43 300.00,582.30 C301.73,582.17 303.42,581.10 304.60,580.00 C305.78,578.90 306.62,575.40 307.40,575.40 C308.18,575.40 308.96,577.79 309.50,580.00 C310.04,582.21 309.86,586.86 310.80,589.20 C311.74,591.54 313.69,593.11 315.40,594.60 C317.11,596.09 319.53,597.88 321.50,598.50 C323.47,599.12 325.97,598.02 327.70,598.50 C329.43,598.98 330.83,600.27 332.30,601.50 C333.77,602.73 335.43,605.45 336.90,606.20 C338.37,606.95 339.77,605.46 341.50,606.20 C343.23,606.94 346.02,609.55 347.70,610.80 C349.38,612.05 350.03,611.73 352.00,614.00 C353.97,616.27 357.12,621.64 360.00,625.00 C362.88,628.36 366.80,631.80 370.00,635.00 C373.20,638.20 376.30,641.99 380.00,645.00 C383.70,648.01 389.53,652.39 393.10,653.80 C396.67,655.21 399.72,653.05 402.30,653.80 C404.88,654.55 407.36,656.64 409.20,658.50 C411.04,660.36 412.31,663.37 413.80,665.40 C415.29,667.43 416.71,669.66 418.50,671.20 C420.29,672.74 422.36,674.15 425.00,675.00 C427.64,675.85 433.40,676.26 435.00,676.50 L435.00,676.5 Z" fill="#e0e0e2"/>
<path d="M153.50,676.50 C154.12,674.98 156.28,670.52 157.40,667.00 C158.52,663.48 159.64,658.98 160.50,654.50 C161.36,650.02 162.18,643.96 162.80,639.00 C163.42,634.04 163.90,628.94 164.40,623.50 C164.90,618.06 165.40,610.95 165.90,605.00 C166.40,599.05 167.00,591.28 167.50,586.30 C168.00,581.32 168.38,577.87 169.00,573.90 C169.62,569.93 170.52,564.48 171.40,561.50 C172.28,558.52 173.51,558.28 174.50,555.30 C175.49,552.32 176.74,546.63 177.60,542.90 C178.46,539.17 179.16,534.61 179.90,532.00 C180.64,529.39 181.38,526.71 182.20,526.60 C183.02,526.49 183.88,530.87 185.00,531.30 C186.12,531.73 188.16,528.44 189.20,529.30 C190.24,530.16 190.76,533.53 191.50,536.70 C192.24,539.87 192.92,546.36 193.80,549.10 C194.68,551.84 195.88,554.04 197.00,553.80 C198.12,553.56 199.57,547.36 200.80,547.60 C202.03,547.84 203.45,551.59 204.70,555.30 C205.95,559.01 207.61,567.95 208.60,570.80 C209.59,573.65 210.16,574.59 210.90,573.10 C211.64,571.61 212.46,564.09 213.20,561.50 C213.94,558.91 214.75,556.15 215.50,556.90 C216.25,557.65 217.02,563.72 217.90,566.20 C218.78,568.68 220.06,571.97 221.00,572.40 C221.94,572.83 222.86,568.55 223.80,568.90 C224.74,569.25 225.91,573.06 226.90,574.60 C227.89,576.14 229.01,578.63 230.00,578.50 C230.99,578.37 232.11,574.42 233.10,573.80 C234.09,573.18 235.22,574.71 236.20,574.60 C237.18,574.49 238.10,572.97 239.20,573.10 C240.30,573.23 241.98,573.56 243.10,575.40 C244.22,577.24 245.22,582.26 246.20,584.60 C247.18,586.94 248.35,590.24 249.20,590.00 C250.05,589.76 250.64,586.67 251.50,583.10 C252.36,579.53 253.74,570.79 254.60,567.70 C255.46,564.61 256.16,564.10 256.90,563.80 C257.64,563.50 258.46,565.62 259.20,565.80 C259.94,565.98 260.64,564.36 261.50,564.90 C262.36,565.44 263.61,567.89 264.60,569.20 C265.59,570.51 266.60,571.87 267.70,573.10 C268.80,574.33 270.52,575.56 271.50,576.90 C272.48,578.24 272.81,580.88 273.80,581.50 C274.79,582.12 276.71,580.91 277.70,580.80 C278.69,580.69 278.90,581.42 280.00,580.80 C281.10,580.18 283.13,577.40 284.60,576.90 C286.07,576.40 287.73,577.08 289.20,577.70 C290.67,578.32 292.07,580.06 293.80,580.80 C295.53,581.54 298.27,582.43 300.00,582.30 C301.73,582.17 303.42,581.10 304.60,580.00 C305.78,578.90 306.62,575.40 307.40,575.40 C308.18,575.40 308.96,577.79 309.50,580.00 C310.04,582.21 309.86,586.86 310.80,589.20 C311.74,591.54 313.69,593.11 315.40,594.60 C317.11,596.09 319.53,597.88 321.50,598.50 C323.47,599.12 325.97,598.02 327.70,598.50 C329.43,598.98 330.83,600.27 332.30,601.50 C333.77,602.73 335.43,605.45 336.90,606.20 C338.37,606.95 339.77,605.46 341.50,606.20 C343.23,606.94 346.02,609.55 347.70,610.80 C349.38,612.05 350.03,611.73 352.00,614.00 C353.97,616.27 357.12,621.64 360.00,625.00 C362.88,628.36 366.80,631.80 370.00,635.00 C373.20,638.20 376.30,641.99 380.00,645.00 C383.70,648.01 389.53,652.39 393.10,653.80 C396.67,655.21 399.72,653.05 402.30,653.80 C404.88,654.55 407.36,656.64 409.20,658.50 C411.04,660.36 412.31,663.37 413.80,665.40 C415.29,667.43 416.71,669.66 418.50,671.20 C420.29,672.74 422.36,674.15 425.00,675.00 C427.64,675.85 433.40,676.26 435.00,676.50" fill="none" stroke="#6f6f72" stroke-width="1.5" stroke-linejoin="round"/>
<path d="M150.00,676.50 C150.69,676.34 151.37,676.28 154.30,675.50 C157.23,674.72 164.83,672.59 168.30,671.60 C171.77,670.61 173.52,669.92 176.00,669.30 C178.48,668.68 181.32,668.07 183.80,667.70 C186.28,667.33 189.28,667.37 191.50,667.00 C193.72,666.63 195.72,665.29 197.70,665.40 C199.68,665.51 201.66,667.57 203.90,667.70 C206.14,667.83 209.22,666.57 211.70,666.20 C214.18,665.83 217.34,665.53 219.40,665.40 C221.46,665.27 223.03,665.90 224.60,665.40 C226.17,664.90 227.73,662.67 229.20,662.30 C230.67,661.93 232.57,663.60 233.80,663.10 C235.03,662.60 235.91,660.56 236.90,659.20 C237.89,657.84 238.64,656.07 240.00,654.60 C241.36,653.13 243.80,650.50 245.40,650.00 C247.00,649.50 248.40,652.36 250.00,651.50 C251.60,650.64 253.80,647.18 255.40,644.60 C257.00,642.02 258.66,638.34 260.00,635.40 C261.34,632.46 262.57,629.40 263.80,626.20 C265.03,623.00 266.47,618.60 267.70,615.40 C268.93,612.20 270.27,609.40 271.50,606.20 C272.73,603.00 274.17,599.35 275.40,595.40 C276.63,591.45 278.10,586.17 279.20,581.50 C280.30,576.83 281.44,570.87 282.30,566.20 C283.16,561.53 283.86,556.00 284.60,552.30 C285.34,548.60 286.26,545.80 286.90,543.10 C287.54,540.40 287.91,538.10 288.60,535.40 C289.29,532.70 290.30,530.63 291.20,526.20 C292.10,521.77 293.35,513.12 294.20,507.70 C295.05,502.28 295.76,496.73 296.50,492.30 C297.24,487.87 298.05,482.70 298.80,480.00 C299.55,477.30 300.45,475.90 301.20,475.40 C301.95,474.90 302.89,478.37 303.50,476.90 C304.11,475.43 304.26,469.64 305.00,466.20 C305.74,462.76 307.24,458.60 308.10,455.40 C308.96,452.20 309.79,449.66 310.40,446.20 C311.01,442.74 311.40,437.50 311.90,433.80 C312.40,430.10 313.00,426.54 313.50,423.10 C314.00,419.66 314.39,413.90 315.00,412.30 C315.61,410.70 316.56,413.84 317.30,413.10 C318.04,412.36 318.98,409.06 319.60,407.70 C320.22,406.34 320.70,404.73 321.20,404.60 C321.70,404.47 321.96,405.43 322.70,406.90 C323.44,408.37 324.70,411.70 325.80,413.80 C326.90,415.90 328.50,418.02 329.60,420.00 C330.70,421.98 331.71,423.24 332.70,426.20 C333.69,429.16 334.82,434.32 335.80,438.50 C336.78,442.68 337.82,447.87 338.80,452.30 C339.78,456.73 341.04,462.01 341.90,466.20 C342.76,470.39 343.46,474.56 344.20,478.50 C344.94,482.44 345.64,487.86 346.50,490.80 C347.36,493.74 348.48,494.93 349.60,496.90 C350.72,498.87 352.51,500.88 353.50,503.10 C354.49,505.32 355.06,507.60 355.80,510.80 C356.54,514.00 357.36,519.16 358.10,523.10 C358.84,527.04 359.66,531.46 360.40,535.40 C361.14,539.34 362.09,544.26 362.70,547.70 C363.31,551.14 363.40,553.46 364.20,556.90 C365.00,560.34 366.64,565.74 367.70,569.20 C368.76,572.66 369.94,575.04 370.80,578.50 C371.66,581.96 372.12,588.16 373.10,590.80 C374.08,593.44 375.56,591.93 376.90,595.00 C378.24,598.07 380.01,605.94 381.50,610.00 C382.99,614.06 384.90,617.81 386.20,620.40 C387.50,622.99 388.50,624.36 389.60,626.20 C390.70,628.04 391.80,630.06 393.10,631.90 C394.40,633.74 396.04,635.67 397.70,637.70 C399.36,639.73 401.84,644.04 403.50,644.60 C405.16,645.16 406.63,642.50 408.10,641.20 C409.57,639.90 411.40,637.80 412.70,636.50 C414.00,635.20 415.00,633.80 416.20,633.10 C417.40,632.40 418.92,632.15 420.20,632.10 C421.48,632.05 423.02,633.06 424.20,632.80 C425.38,632.54 426.42,630.61 427.60,630.50 C428.78,630.39 430.64,631.19 431.60,632.10 C432.56,633.01 432.94,634.47 433.60,636.20 C434.26,637.93 434.93,640.76 435.70,642.90 C436.47,645.04 437.44,647.23 438.40,649.60 C439.36,651.97 440.74,655.54 441.70,657.70 C442.66,659.86 443.31,661.37 444.40,663.10 C445.49,664.83 447.20,667.00 448.50,668.50 C449.80,670.00 451.00,671.65 452.50,672.50 C454.00,673.35 455.90,673.16 457.90,673.80 C459.90,674.44 463.86,676.07 465.00,676.50" fill="none" stroke="rgba(255,255,255,0.55)" stroke-width="3.6" stroke-linejoin="round"/>
<path d="M150.00,676.5 L150.00,676.50 C150.69,676.34 151.37,676.28 154.30,675.50 C157.23,674.72 164.83,672.59 168.30,671.60 C171.77,670.61 173.52,669.92 176.00,669.30 C178.48,668.68 181.32,668.07 183.80,667.70 C186.28,667.33 189.28,667.37 191.50,667.00 C193.72,666.63 195.72,665.29 197.70,665.40 C199.68,665.51 201.66,667.57 203.90,667.70 C206.14,667.83 209.22,666.57 211.70,666.20 C214.18,665.83 217.34,665.53 219.40,665.40 C221.46,665.27 223.03,665.90 224.60,665.40 C226.17,664.90 227.73,662.67 229.20,662.30 C230.67,661.93 232.57,663.60 233.80,663.10 C235.03,662.60 235.91,660.56 236.90,659.20 C237.89,657.84 238.64,656.07 240.00,654.60 C241.36,653.13 243.80,650.50 245.40,650.00 C247.00,649.50 248.40,652.36 250.00,651.50 C251.60,650.64 253.80,647.18 255.40,644.60 C257.00,642.02 258.66,638.34 260.00,635.40 C261.34,632.46 262.57,629.40 263.80,626.20 C265.03,623.00 266.47,618.60 267.70,615.40 C268.93,612.20 270.27,609.40 271.50,606.20 C272.73,603.00 274.17,599.35 275.40,595.40 C276.63,591.45 278.10,586.17 279.20,581.50 C280.30,576.83 281.44,570.87 282.30,566.20 C283.16,561.53 283.86,556.00 284.60,552.30 C285.34,548.60 286.26,545.80 286.90,543.10 C287.54,540.40 287.91,538.10 288.60,535.40 C289.29,532.70 290.30,530.63 291.20,526.20 C292.10,521.77 293.35,513.12 294.20,507.70 C295.05,502.28 295.76,496.73 296.50,492.30 C297.24,487.87 298.05,482.70 298.80,480.00 C299.55,477.30 300.45,475.90 301.20,475.40 C301.95,474.90 302.89,478.37 303.50,476.90 C304.11,475.43 304.26,469.64 305.00,466.20 C305.74,462.76 307.24,458.60 308.10,455.40 C308.96,452.20 309.79,449.66 310.40,446.20 C311.01,442.74 311.40,437.50 311.90,433.80 C312.40,430.10 313.00,426.54 313.50,423.10 C314.00,419.66 314.39,413.90 315.00,412.30 C315.61,410.70 316.56,413.84 317.30,413.10 C318.04,412.36 318.98,409.06 319.60,407.70 C320.22,406.34 320.70,404.73 321.20,404.60 C321.70,404.47 321.96,405.43 322.70,406.90 C323.44,408.37 324.70,411.70 325.80,413.80 C326.90,415.90 328.50,418.02 329.60,420.00 C330.70,421.98 331.71,423.24 332.70,426.20 C333.69,429.16 334.82,434.32 335.80,438.50 C336.78,442.68 337.82,447.87 338.80,452.30 C339.78,456.73 341.04,462.01 341.90,466.20 C342.76,470.39 343.46,474.56 344.20,478.50 C344.94,482.44 345.64,487.86 346.50,490.80 C347.36,493.74 348.48,494.93 349.60,496.90 C350.72,498.87 352.51,500.88 353.50,503.10 C354.49,505.32 355.06,507.60 355.80,510.80 C356.54,514.00 357.36,519.16 358.10,523.10 C358.84,527.04 359.66,531.46 360.40,535.40 C361.14,539.34 362.09,544.26 362.70,547.70 C363.31,551.14 363.40,553.46 364.20,556.90 C365.00,560.34 366.64,565.74 367.70,569.20 C368.76,572.66 369.94,575.04 370.80,578.50 C371.66,581.96 372.12,588.16 373.10,590.80 C374.08,593.44 375.56,591.93 376.90,595.00 C378.24,598.07 380.01,605.94 381.50,610.00 C382.99,614.06 384.90,617.81 386.20,620.40 C387.50,622.99 388.50,624.36 389.60,626.20 C390.70,628.04 391.80,630.06 393.10,631.90 C394.40,633.74 396.04,635.67 397.70,637.70 C399.36,639.73 401.84,644.04 403.50,644.60 C405.16,645.16 406.63,642.50 408.10,641.20 C409.57,639.90 411.40,637.80 412.70,636.50 C414.00,635.20 415.00,633.80 416.20,633.10 C417.40,632.40 418.92,632.15 420.20,632.10 C421.48,632.05 423.02,633.06 424.20,632.80 C425.38,632.54 426.42,630.61 427.60,630.50 C428.78,630.39 430.64,631.19 431.60,632.10 C432.56,633.01 432.94,634.47 433.60,636.20 C434.26,637.93 434.93,640.76 435.70,642.90 C436.47,645.04 437.44,647.23 438.40,649.60 C439.36,651.97 440.74,655.54 441.70,657.70 C442.66,659.86 443.31,661.37 444.40,663.10 C445.49,664.83 447.20,667.00 448.50,668.50 C449.80,670.00 451.00,671.65 452.50,672.50 C454.00,673.35 455.90,673.16 457.90,673.80 C459.90,674.44 463.86,676.07 465.00,676.50 L465.00,676.5 Z" fill="rgba(132,128,186,0.48)"/>
<path d="M150.00,676.50 C150.69,676.34 151.37,676.28 154.30,675.50 C157.23,674.72 164.83,672.59 168.30,671.60 C171.77,670.61 173.52,669.92 176.00,669.30 C178.48,668.68 181.32,668.07 183.80,667.70 C186.28,667.33 189.28,667.37 191.50,667.00 C193.72,666.63 195.72,665.29 197.70,665.40 C199.68,665.51 201.66,667.57 203.90,667.70 C206.14,667.83 209.22,666.57 211.70,666.20 C214.18,665.83 217.34,665.53 219.40,665.40 C221.46,665.27 223.03,665.90 224.60,665.40 C226.17,664.90 227.73,662.67 229.20,662.30 C230.67,661.93 232.57,663.60 233.80,663.10 C235.03,662.60 235.91,660.56 236.90,659.20 C237.89,657.84 238.64,656.07 240.00,654.60 C241.36,653.13 243.80,650.50 245.40,650.00 C247.00,649.50 248.40,652.36 250.00,651.50 C251.60,650.64 253.80,647.18 255.40,644.60 C257.00,642.02 258.66,638.34 260.00,635.40 C261.34,632.46 262.57,629.40 263.80,626.20 C265.03,623.00 266.47,618.60 267.70,615.40 C268.93,612.20 270.27,609.40 271.50,606.20 C272.73,603.00 274.17,599.35 275.40,595.40 C276.63,591.45 278.10,586.17 279.20,581.50 C280.30,576.83 281.44,570.87 282.30,566.20 C283.16,561.53 283.86,556.00 284.60,552.30 C285.34,548.60 286.26,545.80 286.90,543.10 C287.54,540.40 287.91,538.10 288.60,535.40 C289.29,532.70 290.30,530.63 291.20,526.20 C292.10,521.77 293.35,513.12 294.20,507.70 C295.05,502.28 295.76,496.73 296.50,492.30 C297.24,487.87 298.05,482.70 298.80,480.00 C299.55,477.30 300.45,475.90 301.20,475.40 C301.95,474.90 302.89,478.37 303.50,476.90 C304.11,475.43 304.26,469.64 305.00,466.20 C305.74,462.76 307.24,458.60 308.10,455.40 C308.96,452.20 309.79,449.66 310.40,446.20 C311.01,442.74 311.40,437.50 311.90,433.80 C312.40,430.10 313.00,426.54 313.50,423.10 C314.00,419.66 314.39,413.90 315.00,412.30 C315.61,410.70 316.56,413.84 317.30,413.10 C318.04,412.36 318.98,409.06 319.60,407.70 C320.22,406.34 320.70,404.73 321.20,404.60 C321.70,404.47 321.96,405.43 322.70,406.90 C323.44,408.37 324.70,411.70 325.80,413.80 C326.90,415.90 328.50,418.02 329.60,420.00 C330.70,421.98 331.71,423.24 332.70,426.20 C333.69,429.16 334.82,434.32 335.80,438.50 C336.78,442.68 337.82,447.87 338.80,452.30 C339.78,456.73 341.04,462.01 341.90,466.20 C342.76,470.39 343.46,474.56 344.20,478.50 C344.94,482.44 345.64,487.86 346.50,490.80 C347.36,493.74 348.48,494.93 349.60,496.90 C350.72,498.87 352.51,500.88 353.50,503.10 C354.49,505.32 355.06,507.60 355.80,510.80 C356.54,514.00 357.36,519.16 358.10,523.10 C358.84,527.04 359.66,531.46 360.40,535.40 C361.14,539.34 362.09,544.26 362.70,547.70 C363.31,551.14 363.40,553.46 364.20,556.90 C365.00,560.34 366.64,565.74 367.70,569.20 C368.76,572.66 369.94,575.04 370.80,578.50 C371.66,581.96 372.12,588.16 373.10,590.80 C374.08,593.44 375.56,591.93 376.90,595.00 C378.24,598.07 380.01,605.94 381.50,610.00 C382.99,614.06 384.90,617.81 386.20,620.40 C387.50,622.99 388.50,624.36 389.60,626.20 C390.70,628.04 391.80,630.06 393.10,631.90 C394.40,633.74 396.04,635.67 397.70,637.70 C399.36,639.73 401.84,644.04 403.50,644.60 C405.16,645.16 406.63,642.50 408.10,641.20 C409.57,639.90 411.40,637.80 412.70,636.50 C414.00,635.20 415.00,633.80 416.20,633.10 C417.40,632.40 418.92,632.15 420.20,632.10 C421.48,632.05 423.02,633.06 424.20,632.80 C425.38,632.54 426.42,630.61 427.60,630.50 C428.78,630.39 430.64,631.19 431.60,632.10 C432.56,633.01 432.94,634.47 433.60,636.20 C434.26,637.93 434.93,640.76 435.70,642.90 C436.47,645.04 437.44,647.23 438.40,649.60 C439.36,651.97 440.74,655.54 441.70,657.70 C442.66,659.86 443.31,661.37 444.40,663.10 C445.49,664.83 447.20,667.00 448.50,668.50 C449.80,670.00 451.00,671.65 452.50,672.50 C454.00,673.35 455.90,673.16 457.90,673.80 C459.90,674.44 463.86,676.07 465.00,676.50" fill="none" stroke="#7a77a0" stroke-width="1.45" stroke-linejoin="round"/>
<path d="M160.00,676.5 L160.00,676.50 C161.60,676.34 166.80,675.98 170.00,675.50 C173.20,675.02 176.80,673.66 180.00,673.50 C183.20,673.34 186.80,674.58 190.00,674.50 C193.20,674.42 196.80,672.92 200.00,673.00 C203.20,673.08 206.80,674.92 210.00,675.00 C213.20,675.08 216.80,673.58 220.00,673.50 C223.20,673.42 226.80,674.58 230.00,674.50 C233.20,674.42 236.80,673.08 240.00,673.00 C243.20,672.92 246.80,673.92 250.00,674.00 C253.20,674.08 257.12,673.50 260.00,673.50 C262.88,673.50 265.79,674.06 268.00,674.00 C270.21,673.94 271.64,673.61 273.80,673.10 C275.96,672.59 278.78,671.42 281.50,670.80 C284.22,670.18 288.34,669.82 290.80,669.20 C293.26,668.58 294.93,667.76 296.90,666.90 C298.87,666.04 301.13,664.54 303.10,663.80 C305.07,663.06 307.23,663.04 309.20,662.30 C311.17,661.56 313.43,660.18 315.40,659.20 C317.37,658.22 319.77,657.43 321.50,656.20 C323.23,654.97 324.97,653.23 326.20,651.50 C327.43,649.77 328.22,647.11 329.20,645.40 C330.18,643.69 331.31,642.03 332.30,640.80 C333.29,639.57 334.17,638.44 335.40,637.70 C336.63,636.96 338.77,636.82 340.00,636.20 C341.23,635.58 341.87,635.66 343.10,633.80 C344.33,631.94 346.23,627.30 347.70,624.60 C349.17,621.90 351.07,619.36 352.30,616.90 C353.53,614.44 354.41,610.54 355.40,609.20 C356.39,607.86 357.52,608.50 358.50,608.50 C359.48,608.50 360.52,610.32 361.50,609.20 C362.48,608.08 363.37,603.47 364.60,601.50 C365.83,599.53 368.10,597.75 369.20,596.90 C370.30,596.05 370.51,596.94 371.50,596.20 C372.49,595.46 374.17,592.80 375.40,592.30 C376.63,591.80 378.10,593.60 379.20,593.10 C380.30,592.60 381.39,590.11 382.30,589.20 C383.21,588.29 384.04,587.03 384.90,587.40 C385.76,587.77 386.64,590.59 387.70,591.50 C388.76,592.41 390.40,592.24 391.50,593.10 C392.60,593.96 393.61,596.58 394.60,596.90 C395.59,597.22 396.71,595.10 397.70,595.10 C398.69,595.10 399.94,596.12 400.80,596.90 C401.66,597.68 402.49,599.14 403.10,600.00 C403.71,600.86 403.86,601.31 404.60,602.30 C405.34,603.29 406.71,604.10 407.70,606.20 C408.69,608.30 409.82,612.95 410.80,615.40 C411.78,617.85 413.06,620.27 413.80,621.50 C414.54,622.73 414.90,621.87 415.40,623.10 C415.90,624.33 416.16,627.49 416.90,629.20 C417.64,630.91 418.77,631.58 420.00,633.80 C421.23,636.02 423.13,640.14 424.60,643.10 C426.07,646.06 427.84,649.60 429.20,652.30 C430.56,655.00 432.11,658.03 433.10,660.00 C434.09,661.97 434.30,663.00 435.40,664.60 C436.50,666.20 438.53,668.77 440.00,670.00 C441.47,671.23 443.00,671.50 444.60,672.30 C446.20,673.10 448.34,674.33 450.00,675.00 C451.66,675.67 454.20,676.26 455.00,676.50 L455.00,676.5 Z" fill="rgba(180,30,70,0.56)"/>
<path d="M266.00,676.5 L266.00,676.50 C267.38,676.07 272.20,674.84 274.60,673.80 C277.00,672.76 278.97,671.47 281.00,670.00 C283.03,668.53 285.62,666.68 287.30,664.60 C288.98,662.52 290.20,659.58 291.50,657.00 C292.80,654.42 294.20,651.06 295.40,648.50 C296.60,645.94 297.90,643.22 299.00,641.00 C300.10,638.78 301.21,636.84 302.30,634.60 C303.39,632.36 304.70,629.40 305.80,627.00 C306.90,624.60 308.10,621.92 309.20,619.60 C310.30,617.28 311.58,614.71 312.70,612.50 C313.82,610.29 315.10,607.80 316.20,605.80 C317.30,603.80 318.67,601.57 319.60,600.00 C320.53,598.43 321.20,597.23 322.00,596.00 C322.80,594.77 323.69,594.12 324.60,592.30 C325.51,590.48 326.71,587.30 327.70,584.60 C328.69,581.90 329.82,578.10 330.80,575.40 C331.78,572.70 332.82,569.92 333.80,567.70 C334.78,565.48 335.91,563.23 336.90,561.50 C337.89,559.77 338.90,559.48 340.00,556.90 C341.10,554.32 342.57,545.64 343.80,545.40 C345.03,545.16 346.58,552.82 347.70,555.40 C348.82,557.98 349.82,560.03 350.80,561.50 C351.78,562.97 352.33,563.85 353.80,564.60 C355.27,565.35 358.51,564.47 360.00,566.20 C361.49,567.93 362.36,572.20 363.10,575.40 C363.84,578.60 364.10,582.76 364.60,586.20 C365.10,589.64 365.34,594.93 366.20,596.90 C367.06,598.87 368.66,596.96 370.00,598.50 C371.34,600.04 373.13,603.19 374.60,606.50 C376.07,609.81 377.73,615.31 379.20,619.20 C380.67,623.09 382.31,627.10 383.80,630.80 C385.29,634.50 387.01,638.80 388.50,642.30 C389.99,645.80 391.63,649.37 393.10,652.70 C394.57,656.03 396.23,660.33 397.70,663.10 C399.17,665.87 400.64,668.34 402.30,670.00 C403.96,671.66 406.07,672.46 408.10,673.50 C410.13,674.54 413.90,676.02 415.00,676.50 L415.00,676.5 Z" fill="rgba(230,182,131,0.59)"/>
<path d="M160.00,676.5 L160.00,676.50 C161.60,676.34 166.80,675.98 170.00,675.50 C173.20,675.02 176.80,673.66 180.00,673.50 C183.20,673.34 186.80,674.58 190.00,674.50 C193.20,674.42 196.80,672.92 200.00,673.00 C203.20,673.08 206.80,674.92 210.00,675.00 C213.20,675.08 216.80,673.58 220.00,673.50 C223.20,673.42 226.80,674.58 230.00,674.50 C233.20,674.42 236.80,673.08 240.00,673.00 C243.20,672.92 246.80,673.92 250.00,674.00 C253.20,674.08 257.12,673.50 260.00,673.50 C262.88,673.50 265.79,674.06 268.00,674.00 C270.21,673.94 271.64,673.61 273.80,673.10 C275.96,672.59 278.78,671.42 281.50,670.80 C284.22,670.18 288.34,669.82 290.80,669.20 C293.26,668.58 294.93,667.76 296.90,666.90 C298.87,666.04 301.13,664.54 303.10,663.80 C305.07,663.06 307.23,663.04 309.20,662.30 C311.17,661.56 313.43,660.18 315.40,659.20 C317.37,658.22 319.77,657.43 321.50,656.20 C323.23,654.97 324.97,653.23 326.20,651.50 C327.43,649.77 328.22,647.11 329.20,645.40 C330.18,643.69 331.31,642.03 332.30,640.80 C333.29,639.57 334.17,638.44 335.40,637.70 C336.63,636.96 338.77,636.82 340.00,636.20 C341.23,635.58 341.87,635.66 343.10,633.80 C344.33,631.94 346.23,627.30 347.70,624.60 C349.17,621.90 351.07,619.36 352.30,616.90 C353.53,614.44 354.41,610.54 355.40,609.20 C356.39,607.86 357.52,608.50 358.50,608.50 C359.48,608.50 360.52,610.32 361.50,609.20 C362.48,608.08 363.37,603.47 364.60,601.50 C365.83,599.53 368.10,597.75 369.20,596.90 C370.30,596.05 370.51,596.94 371.50,596.20 C372.49,595.46 374.17,592.80 375.40,592.30 C376.63,591.80 378.10,593.60 379.20,593.10 C380.30,592.60 381.39,590.11 382.30,589.20 C383.21,588.29 384.04,587.03 384.90,587.40 C385.76,587.77 386.64,590.59 387.70,591.50 C388.76,592.41 390.40,592.24 391.50,593.10 C392.60,593.96 393.61,596.58 394.60,596.90 C395.59,597.22 396.71,595.10 397.70,595.10 C398.69,595.10 399.94,596.12 400.80,596.90 C401.66,597.68 402.49,599.14 403.10,600.00 C403.71,600.86 403.86,601.31 404.60,602.30 C405.34,603.29 406.71,604.10 407.70,606.20 C408.69,608.30 409.82,612.95 410.80,615.40 C411.78,617.85 413.06,620.27 413.80,621.50 C414.54,622.73 414.90,621.87 415.40,623.10 C415.90,624.33 416.16,627.49 416.90,629.20 C417.64,630.91 418.77,631.58 420.00,633.80 C421.23,636.02 423.13,640.14 424.60,643.10 C426.07,646.06 427.84,649.60 429.20,652.30 C430.56,655.00 432.11,658.03 433.10,660.00 C434.09,661.97 434.30,663.00 435.40,664.60 C436.50,666.20 438.53,668.77 440.00,670.00 C441.47,671.23 443.00,671.50 444.60,672.30 C446.20,673.10 448.34,674.33 450.00,675.00 C451.66,675.67 454.20,676.26 455.00,676.50 L455.00,676.5 Z" fill="rgba(203,133,116,0.82)" clip-path="url(#moB)"/>
<path d="M160.00,676.50 C161.60,676.34 166.80,675.98 170.00,675.50 C173.20,675.02 176.80,673.66 180.00,673.50 C183.20,673.34 186.80,674.58 190.00,674.50 C193.20,674.42 196.80,672.92 200.00,673.00 C203.20,673.08 206.80,674.92 210.00,675.00 C213.20,675.08 216.80,673.58 220.00,673.50 C223.20,673.42 226.80,674.58 230.00,674.50 C233.20,674.42 236.80,673.08 240.00,673.00 C243.20,672.92 246.80,673.92 250.00,674.00 C253.20,674.08 257.12,673.50 260.00,673.50 C262.88,673.50 265.79,674.06 268.00,674.00 C270.21,673.94 271.64,673.61 273.80,673.10 C275.96,672.59 278.78,671.42 281.50,670.80 C284.22,670.18 288.34,669.82 290.80,669.20 C293.26,668.58 294.93,667.76 296.90,666.90 C298.87,666.04 301.13,664.54 303.10,663.80 C305.07,663.06 307.23,663.04 309.20,662.30 C311.17,661.56 313.43,660.18 315.40,659.20 C317.37,658.22 319.77,657.43 321.50,656.20 C323.23,654.97 324.97,653.23 326.20,651.50 C327.43,649.77 328.22,647.11 329.20,645.40 C330.18,643.69 331.31,642.03 332.30,640.80 C333.29,639.57 334.17,638.44 335.40,637.70 C336.63,636.96 338.77,636.82 340.00,636.20 C341.23,635.58 341.87,635.66 343.10,633.80 C344.33,631.94 346.23,627.30 347.70,624.60 C349.17,621.90 351.07,619.36 352.30,616.90 C353.53,614.44 354.41,610.54 355.40,609.20 C356.39,607.86 357.52,608.50 358.50,608.50 C359.48,608.50 360.52,610.32 361.50,609.20 C362.48,608.08 363.37,603.47 364.60,601.50 C365.83,599.53 368.10,597.75 369.20,596.90 C370.30,596.05 370.51,596.94 371.50,596.20 C372.49,595.46 374.17,592.80 375.40,592.30 C376.63,591.80 378.10,593.60 379.20,593.10 C380.30,592.60 381.39,590.11 382.30,589.20 C383.21,588.29 384.04,587.03 384.90,587.40 C385.76,587.77 386.64,590.59 387.70,591.50 C388.76,592.41 390.40,592.24 391.50,593.10 C392.60,593.96 393.61,596.58 394.60,596.90 C395.59,597.22 396.71,595.10 397.70,595.10 C398.69,595.10 399.94,596.12 400.80,596.90 C401.66,597.68 402.49,599.14 403.10,600.00 C403.71,600.86 403.86,601.31 404.60,602.30 C405.34,603.29 406.71,604.10 407.70,606.20 C408.69,608.30 409.82,612.95 410.80,615.40 C411.78,617.85 413.06,620.27 413.80,621.50 C414.54,622.73 414.90,621.87 415.40,623.10 C415.90,624.33 416.16,627.49 416.90,629.20 C417.64,630.91 418.77,631.58 420.00,633.80 C421.23,636.02 423.13,640.14 424.60,643.10 C426.07,646.06 427.84,649.60 429.20,652.30 C430.56,655.00 432.11,658.03 433.10,660.00 C434.09,661.97 434.30,663.00 435.40,664.60 C436.50,666.20 438.53,668.77 440.00,670.00 C441.47,671.23 443.00,671.50 444.60,672.30 C446.20,673.10 448.34,674.33 450.00,675.00 C451.66,675.67 454.20,676.26 455.00,676.50" fill="none" stroke="#8a0e3c" stroke-width="1.4" stroke-linejoin="round" mask="url(#nomoB)"/>
<path d="M160.00,676.50 C161.60,676.34 166.80,675.98 170.00,675.50 C173.20,675.02 176.80,673.66 180.00,673.50 C183.20,673.34 186.80,674.58 190.00,674.50 C193.20,674.42 196.80,672.92 200.00,673.00 C203.20,673.08 206.80,674.92 210.00,675.00 C213.20,675.08 216.80,673.58 220.00,673.50 C223.20,673.42 226.80,674.58 230.00,674.50 C233.20,674.42 236.80,673.08 240.00,673.00 C243.20,672.92 246.80,673.92 250.00,674.00 C253.20,674.08 257.12,673.50 260.00,673.50 C262.88,673.50 265.79,674.06 268.00,674.00 C270.21,673.94 271.64,673.61 273.80,673.10 C275.96,672.59 278.78,671.42 281.50,670.80 C284.22,670.18 288.34,669.82 290.80,669.20 C293.26,668.58 294.93,667.76 296.90,666.90 C298.87,666.04 301.13,664.54 303.10,663.80 C305.07,663.06 307.23,663.04 309.20,662.30 C311.17,661.56 313.43,660.18 315.40,659.20 C317.37,658.22 319.77,657.43 321.50,656.20 C323.23,654.97 324.97,653.23 326.20,651.50 C327.43,649.77 328.22,647.11 329.20,645.40 C330.18,643.69 331.31,642.03 332.30,640.80 C333.29,639.57 334.17,638.44 335.40,637.70 C336.63,636.96 338.77,636.82 340.00,636.20 C341.23,635.58 341.87,635.66 343.10,633.80 C344.33,631.94 346.23,627.30 347.70,624.60 C349.17,621.90 351.07,619.36 352.30,616.90 C353.53,614.44 354.41,610.54 355.40,609.20 C356.39,607.86 357.52,608.50 358.50,608.50 C359.48,608.50 360.52,610.32 361.50,609.20 C362.48,608.08 363.37,603.47 364.60,601.50 C365.83,599.53 368.10,597.75 369.20,596.90 C370.30,596.05 370.51,596.94 371.50,596.20 C372.49,595.46 374.17,592.80 375.40,592.30 C376.63,591.80 378.10,593.60 379.20,593.10 C380.30,592.60 381.39,590.11 382.30,589.20 C383.21,588.29 384.04,587.03 384.90,587.40 C385.76,587.77 386.64,590.59 387.70,591.50 C388.76,592.41 390.40,592.24 391.50,593.10 C392.60,593.96 393.61,596.58 394.60,596.90 C395.59,597.22 396.71,595.10 397.70,595.10 C398.69,595.10 399.94,596.12 400.80,596.90 C401.66,597.68 402.49,599.14 403.10,600.00 C403.71,600.86 403.86,601.31 404.60,602.30 C405.34,603.29 406.71,604.10 407.70,606.20 C408.69,608.30 409.82,612.95 410.80,615.40 C411.78,617.85 413.06,620.27 413.80,621.50 C414.54,622.73 414.90,621.87 415.40,623.10 C415.90,624.33 416.16,627.49 416.90,629.20 C417.64,630.91 418.77,631.58 420.00,633.80 C421.23,636.02 423.13,640.14 424.60,643.10 C426.07,646.06 427.84,649.60 429.20,652.30 C430.56,655.00 432.11,658.03 433.10,660.00 C434.09,661.97 434.30,663.00 435.40,664.60 C436.50,666.20 438.53,668.77 440.00,670.00 C441.47,671.23 443.00,671.50 444.60,672.30 C446.20,673.10 448.34,674.33 450.00,675.00 C451.66,675.67 454.20,676.26 455.00,676.50" fill="none" stroke="#efb4a0" stroke-width="1.3" stroke-linejoin="round" clip-path="url(#moB)"/>
<g clip-path="url(#moB)" opacity="0.4"><path d="M153.50,676.50 C154.12,674.98 156.28,670.52 157.40,667.00 C158.52,663.48 159.64,658.98 160.50,654.50 C161.36,650.02 162.18,643.96 162.80,639.00 C163.42,634.04 163.90,628.94 164.40,623.50 C164.90,618.06 165.40,610.95 165.90,605.00 C166.40,599.05 167.00,591.28 167.50,586.30 C168.00,581.32 168.38,577.87 169.00,573.90 C169.62,569.93 170.52,564.48 171.40,561.50 C172.28,558.52 173.51,558.28 174.50,555.30 C175.49,552.32 176.74,546.63 177.60,542.90 C178.46,539.17 179.16,534.61 179.90,532.00 C180.64,529.39 181.38,526.71 182.20,526.60 C183.02,526.49 183.88,530.87 185.00,531.30 C186.12,531.73 188.16,528.44 189.20,529.30 C190.24,530.16 190.76,533.53 191.50,536.70 C192.24,539.87 192.92,546.36 193.80,549.10 C194.68,551.84 195.88,554.04 197.00,553.80 C198.12,553.56 199.57,547.36 200.80,547.60 C202.03,547.84 203.45,551.59 204.70,555.30 C205.95,559.01 207.61,567.95 208.60,570.80 C209.59,573.65 210.16,574.59 210.90,573.10 C211.64,571.61 212.46,564.09 213.20,561.50 C213.94,558.91 214.75,556.15 215.50,556.90 C216.25,557.65 217.02,563.72 217.90,566.20 C218.78,568.68 220.06,571.97 221.00,572.40 C221.94,572.83 222.86,568.55 223.80,568.90 C224.74,569.25 225.91,573.06 226.90,574.60 C227.89,576.14 229.01,578.63 230.00,578.50 C230.99,578.37 232.11,574.42 233.10,573.80 C234.09,573.18 235.22,574.71 236.20,574.60 C237.18,574.49 238.10,572.97 239.20,573.10 C240.30,573.23 241.98,573.56 243.10,575.40 C244.22,577.24 245.22,582.26 246.20,584.60 C247.18,586.94 248.35,590.24 249.20,590.00 C250.05,589.76 250.64,586.67 251.50,583.10 C252.36,579.53 253.74,570.79 254.60,567.70 C255.46,564.61 256.16,564.10 256.90,563.80 C257.64,563.50 258.46,565.62 259.20,565.80 C259.94,565.98 260.64,564.36 261.50,564.90 C262.36,565.44 263.61,567.89 264.60,569.20 C265.59,570.51 266.60,571.87 267.70,573.10 C268.80,574.33 270.52,575.56 271.50,576.90 C272.48,578.24 272.81,580.88 273.80,581.50 C274.79,582.12 276.71,580.91 277.70,580.80 C278.69,580.69 278.90,581.42 280.00,580.80 C281.10,580.18 283.13,577.40 284.60,576.90 C286.07,576.40 287.73,577.08 289.20,577.70 C290.67,578.32 292.07,580.06 293.80,580.80 C295.53,581.54 298.27,582.43 300.00,582.30 C301.73,582.17 303.42,581.10 304.60,580.00 C305.78,578.90 306.62,575.40 307.40,575.40 C308.18,575.40 308.96,577.79 309.50,580.00 C310.04,582.21 309.86,586.86 310.80,589.20 C311.74,591.54 313.69,593.11 315.40,594.60 C317.11,596.09 319.53,597.88 321.50,598.50 C323.47,599.12 325.97,598.02 327.70,598.50 C329.43,598.98 330.83,600.27 332.30,601.50 C333.77,602.73 335.43,605.45 336.90,606.20 C338.37,606.95 339.77,605.46 341.50,606.20 C343.23,606.94 346.02,609.55 347.70,610.80 C349.38,612.05 350.03,611.73 352.00,614.00 C353.97,616.27 357.12,621.64 360.00,625.00 C362.88,628.36 366.80,631.80 370.00,635.00 C373.20,638.20 376.30,641.99 380.00,645.00 C383.70,648.01 389.53,652.39 393.10,653.80 C396.67,655.21 399.72,653.05 402.30,653.80 C404.88,654.55 407.36,656.64 409.20,658.50 C411.04,660.36 412.31,663.37 413.80,665.40 C415.29,667.43 416.71,669.66 418.50,671.20 C420.29,672.74 422.36,674.15 425.00,675.00 C427.64,675.85 433.40,676.26 435.00,676.50" fill="none" stroke="#6f6f72" stroke-width="1.5" stroke-linejoin="round"/><path d="M150.00,676.50 C150.69,676.34 151.37,676.28 154.30,675.50 C157.23,674.72 164.83,672.59 168.30,671.60 C171.77,670.61 173.52,669.92 176.00,669.30 C178.48,668.68 181.32,668.07 183.80,667.70 C186.28,667.33 189.28,667.37 191.50,667.00 C193.72,666.63 195.72,665.29 197.70,665.40 C199.68,665.51 201.66,667.57 203.90,667.70 C206.14,667.83 209.22,666.57 211.70,666.20 C214.18,665.83 217.34,665.53 219.40,665.40 C221.46,665.27 223.03,665.90 224.60,665.40 C226.17,664.90 227.73,662.67 229.20,662.30 C230.67,661.93 232.57,663.60 233.80,663.10 C235.03,662.60 235.91,660.56 236.90,659.20 C237.89,657.84 238.64,656.07 240.00,654.60 C241.36,653.13 243.80,650.50 245.40,650.00 C247.00,649.50 248.40,652.36 250.00,651.50 C251.60,650.64 253.80,647.18 255.40,644.60 C257.00,642.02 258.66,638.34 260.00,635.40 C261.34,632.46 262.57,629.40 263.80,626.20 C265.03,623.00 266.47,618.60 267.70,615.40 C268.93,612.20 270.27,609.40 271.50,606.20 C272.73,603.00 274.17,599.35 275.40,595.40 C276.63,591.45 278.10,586.17 279.20,581.50 C280.30,576.83 281.44,570.87 282.30,566.20 C283.16,561.53 283.86,556.00 284.60,552.30 C285.34,548.60 286.26,545.80 286.90,543.10 C287.54,540.40 287.91,538.10 288.60,535.40 C289.29,532.70 290.30,530.63 291.20,526.20 C292.10,521.77 293.35,513.12 294.20,507.70 C295.05,502.28 295.76,496.73 296.50,492.30 C297.24,487.87 298.05,482.70 298.80,480.00 C299.55,477.30 300.45,475.90 301.20,475.40 C301.95,474.90 302.89,478.37 303.50,476.90 C304.11,475.43 304.26,469.64 305.00,466.20 C305.74,462.76 307.24,458.60 308.10,455.40 C308.96,452.20 309.79,449.66 310.40,446.20 C311.01,442.74 311.40,437.50 311.90,433.80 C312.40,430.10 313.00,426.54 313.50,423.10 C314.00,419.66 314.39,413.90 315.00,412.30 C315.61,410.70 316.56,413.84 317.30,413.10 C318.04,412.36 318.98,409.06 319.60,407.70 C320.22,406.34 320.70,404.73 321.20,404.60 C321.70,404.47 321.96,405.43 322.70,406.90 C323.44,408.37 324.70,411.70 325.80,413.80 C326.90,415.90 328.50,418.02 329.60,420.00 C330.70,421.98 331.71,423.24 332.70,426.20 C333.69,429.16 334.82,434.32 335.80,438.50 C336.78,442.68 337.82,447.87 338.80,452.30 C339.78,456.73 341.04,462.01 341.90,466.20 C342.76,470.39 343.46,474.56 344.20,478.50 C344.94,482.44 345.64,487.86 346.50,490.80 C347.36,493.74 348.48,494.93 349.60,496.90 C350.72,498.87 352.51,500.88 353.50,503.10 C354.49,505.32 355.06,507.60 355.80,510.80 C356.54,514.00 357.36,519.16 358.10,523.10 C358.84,527.04 359.66,531.46 360.40,535.40 C361.14,539.34 362.09,544.26 362.70,547.70 C363.31,551.14 363.40,553.46 364.20,556.90 C365.00,560.34 366.64,565.74 367.70,569.20 C368.76,572.66 369.94,575.04 370.80,578.50 C371.66,581.96 372.12,588.16 373.10,590.80 C374.08,593.44 375.56,591.93 376.90,595.00 C378.24,598.07 380.01,605.94 381.50,610.00 C382.99,614.06 384.90,617.81 386.20,620.40 C387.50,622.99 388.50,624.36 389.60,626.20 C390.70,628.04 391.80,630.06 393.10,631.90 C394.40,633.74 396.04,635.67 397.70,637.70 C399.36,639.73 401.84,644.04 403.50,644.60 C405.16,645.16 406.63,642.50 408.10,641.20 C409.57,639.90 411.40,637.80 412.70,636.50 C414.00,635.20 415.00,633.80 416.20,633.10 C417.40,632.40 418.92,632.15 420.20,632.10 C421.48,632.05 423.02,633.06 424.20,632.80 C425.38,632.54 426.42,630.61 427.60,630.50 C428.78,630.39 430.64,631.19 431.60,632.10 C432.56,633.01 432.94,634.47 433.60,636.20 C434.26,637.93 434.93,640.76 435.70,642.90 C436.47,645.04 437.44,647.23 438.40,649.60 C439.36,651.97 440.74,655.54 441.70,657.70 C442.66,659.86 443.31,661.37 444.40,663.10 C445.49,664.83 447.20,667.00 448.50,668.50 C449.80,670.00 451.00,671.65 452.50,672.50 C454.00,673.35 455.90,673.16 457.90,673.80 C459.90,674.44 463.86,676.07 465.00,676.50" fill="none" stroke="#9a8a8e" stroke-width="1.4" stroke-linejoin="round"/></g>
<path d="M266.00,676.50 C267.38,676.07 272.20,674.84 274.60,673.80 C277.00,672.76 278.97,671.47 281.00,670.00 C283.03,668.53 285.62,666.68 287.30,664.60 C288.98,662.52 290.20,659.58 291.50,657.00 C292.80,654.42 294.20,651.06 295.40,648.50 C296.60,645.94 297.90,643.22 299.00,641.00 C300.10,638.78 301.21,636.84 302.30,634.60 C303.39,632.36 304.70,629.40 305.80,627.00 C306.90,624.60 308.10,621.92 309.20,619.60 C310.30,617.28 311.58,614.71 312.70,612.50 C313.82,610.29 315.10,607.80 316.20,605.80 C317.30,603.80 318.67,601.57 319.60,600.00 C320.53,598.43 321.20,597.23 322.00,596.00 C322.80,594.77 323.69,594.12 324.60,592.30 C325.51,590.48 326.71,587.30 327.70,584.60 C328.69,581.90 329.82,578.10 330.80,575.40 C331.78,572.70 332.82,569.92 333.80,567.70 C334.78,565.48 335.91,563.23 336.90,561.50 C337.89,559.77 338.90,559.48 340.00,556.90 C341.10,554.32 342.57,545.64 343.80,545.40 C345.03,545.16 346.58,552.82 347.70,555.40 C348.82,557.98 349.82,560.03 350.80,561.50 C351.78,562.97 352.33,563.85 353.80,564.60 C355.27,565.35 358.51,564.47 360.00,566.20 C361.49,567.93 362.36,572.20 363.10,575.40 C363.84,578.60 364.10,582.76 364.60,586.20 C365.10,589.64 365.34,594.93 366.20,596.90 C367.06,598.87 368.66,596.96 370.00,598.50 C371.34,600.04 373.13,603.19 374.60,606.50 C376.07,609.81 377.73,615.31 379.20,619.20 C380.67,623.09 382.31,627.10 383.80,630.80 C385.29,634.50 387.01,638.80 388.50,642.30 C389.99,645.80 391.63,649.37 393.10,652.70 C394.57,656.03 396.23,660.33 397.70,663.10 C399.17,665.87 400.64,668.34 402.30,670.00 C403.96,671.66 406.07,672.46 408.10,673.50 C410.13,674.54 413.90,676.02 415.00,676.50" fill="none" stroke="#e0b088" stroke-width="1.6" stroke-linejoin="round"/>
<path d="M398.00,676.5 L398.00,676.50 C399.12,676.10 403.08,674.72 405.00,674.00 C406.92,673.28 408.21,672.67 410.00,672.00 C411.79,671.33 414.36,670.58 416.20,669.80 C418.04,669.02 419.79,667.64 421.50,667.10 C423.21,666.56 425.17,667.04 426.90,666.40 C428.63,665.76 431.00,663.85 432.30,663.10 C433.60,662.35 433.77,661.80 435.00,661.70 C436.23,661.60 438.27,662.50 440.00,662.50 C441.73,662.50 444.23,662.04 445.80,661.70 C447.37,661.36 448.89,660.72 449.80,660.40 C450.71,660.08 450.60,659.72 451.50,659.70 C452.40,659.68 454.04,660.06 455.40,660.30 C456.76,660.54 458.27,661.01 460.00,661.20 C461.73,661.39 464.47,661.20 466.20,661.50 C467.93,661.80 469.33,662.56 470.80,663.10 C472.27,663.64 473.80,664.40 475.40,664.90 C477.00,665.40 479.33,665.56 480.80,666.20 C482.27,666.84 483.37,667.92 484.60,668.90 C485.83,669.88 487.14,671.88 488.50,672.30 C489.86,672.72 491.87,671.05 493.10,671.50 C494.33,671.95 495.10,674.30 496.20,675.10 C497.30,675.90 499.39,676.28 500.00,676.50 L500.00,676.5 Z" fill="rgba(200,208,160,0.55)"/>
<path d="M398.00,676.50 C399.12,676.10 403.08,674.72 405.00,674.00 C406.92,673.28 408.21,672.67 410.00,672.00 C411.79,671.33 414.36,670.58 416.20,669.80 C418.04,669.02 419.79,667.64 421.50,667.10 C423.21,666.56 425.17,667.04 426.90,666.40 C428.63,665.76 431.00,663.85 432.30,663.10 C433.60,662.35 433.77,661.80 435.00,661.70 C436.23,661.60 438.27,662.50 440.00,662.50 C441.73,662.50 444.23,662.04 445.80,661.70 C447.37,661.36 448.89,660.72 449.80,660.40 C450.71,660.08 450.60,659.72 451.50,659.70 C452.40,659.68 454.04,660.06 455.40,660.30 C456.76,660.54 458.27,661.01 460.00,661.20 C461.73,661.39 464.47,661.20 466.20,661.50 C467.93,661.80 469.33,662.56 470.80,663.10 C472.27,663.64 473.80,664.40 475.40,664.90 C477.00,665.40 479.33,665.56 480.80,666.20 C482.27,666.84 483.37,667.92 484.60,668.90 C485.83,669.88 487.14,671.88 488.50,672.30 C489.86,672.72 491.87,671.05 493.10,671.50 C494.33,671.95 495.10,674.30 496.20,675.10 C497.30,675.90 499.39,676.28 500.00,676.50" fill="none" stroke="#a9b08c" stroke-width="1.2" stroke-linejoin="round"/>
<path d="M81.5,676.5 V401.5 H510 V676.5 H81.5" fill="none" stroke="#111" stroke-width="1.5"/>
<path d="M80.8,676.5 V683.5 M152.2,676.5 V683.5 M163.9,676.5 V683.5 M167.1,676.5 V683.5 M179.9,676.5 V683.5 M261.9,676.5 V683.5 M372.5,676.5 V683.5 M469.4,676.5 V683.5 M88.2,676.5 V680.8 M95.3,676.5 V680.8 M104.6,676.5 V680.8 M115.3,676.5 V680.8 M126.9,676.5 V680.8 M138.4,676.5 V680.8 M192.5,676.5 V680.8 M205.0,676.5 V680.8 M216.1,676.5 V680.8 M226.8,676.5 V680.8 M235.1,676.5 V680.8 M243.2,676.5 V680.8 M250.1,676.5 V680.8 M256.2,676.5 V680.8 M297.2,676.5 V680.8 M317.6,676.5 V680.8 M331.1,676.5 V680.8 M340.3,676.5 V680.8 M349.0,676.5 V680.8 M355.6,676.5 V680.8 M361.8,676.5 V680.8 M367.1,676.5 V680.8 M401.7,676.5 V680.8 M419.2,676.5 V680.8 M431.7,676.5 V680.8 M440.3,676.5 V680.8 M448.4,676.5 V680.8 M455.3,676.5 V680.8 M460.3,676.5 V680.8 M465.1,676.5 V680.8 M498.4,676.5 V680.8" stroke="#111" stroke-width="1.3" fill="none"/>
<path d="M73.5,676.50 H81.5 M73.5,629.88 H81.5 M73.5,583.25 H81.5 M73.5,536.62 H81.5 M73.5,490.00 H81.5 M73.5,443.38 H81.5 M76.5,667.17 H81.5 M76.5,657.85 H81.5 M76.5,648.52 H81.5 M76.5,639.20 H81.5 M76.5,620.55 H81.5 M76.5,611.23 H81.5 M76.5,601.90 H81.5 M76.5,592.58 H81.5 M76.5,573.92 H81.5 M76.5,564.60 H81.5 M76.5,555.27 H81.5 M76.5,545.95 H81.5 M76.5,527.30 H81.5 M76.5,517.98 H81.5 M76.5,508.65 H81.5 M76.5,499.32 H81.5 M76.5,480.68 H81.5 M76.5,471.35 H81.5 M76.5,462.02 H81.5 M76.5,452.70 H81.5 M76.5,434.05 H81.5 M76.5,424.73 H81.5 M76.5,415.40 H81.5 M76.5,406.07 H81.5" stroke="#111" stroke-width="1.3" fill="none"/>
<text x="10.6" y="23.8" font-size="17.5" text-anchor="start" font-weight="bold" fill="#000">A</text>
<text x="248.5" y="23" font-size="14.2" text-anchor="start" font-weight="normal" fill="#1a1a1a" stroke="#1a1a1a" stroke-width="0.3" textLength="90.7" lengthAdjust="spacingAndGlyphs">Healthy donor</text>
<text x="68.8" y="134.0" font-size="12" text-anchor="end" font-weight="normal" fill="#1a1a1a" stroke="#1a1a1a" stroke-width="0.3" textLength="20" lengthAdjust="spacingAndGlyphs">400</text>
<text x="68.8" y="221.0" font-size="12" text-anchor="end" font-weight="normal" fill="#1a1a1a" stroke="#1a1a1a" stroke-width="0.3" textLength="20" lengthAdjust="spacingAndGlyphs">200</text>
<text x="68.5" y="307.0" font-size="12" text-anchor="end" font-weight="normal" fill="#1a1a1a" stroke="#1a1a1a" stroke-width="0.3">0</text>
<text transform="translate(41.2,198.8) rotate(-90)" font-size="14" fill="#1a1a1a" stroke="#1a1a1a" stroke-width="0.3" textLength="64" lengthAdjust="spacingAndGlyphs">Cell counts</text>
<text x="164.8" y="332.7" font-size="12" text-anchor="middle" font-weight="normal" fill="#1a1a1a" stroke="#1a1a1a" stroke-width="0.3">0</text>
<text x="251.9" y="332.7" font-size="12" text-anchor="start" font-weight="normal" fill="#1a1a1a" stroke="#1a1a1a" stroke-width="0.3" textLength="12.7" lengthAdjust="spacingAndGlyphs">10</text>
<text x="265.1" y="327.5" font-size="8.5" text-anchor="start" font-weight="normal" fill="#1a1a1a" stroke="#1a1a1a" stroke-width="0.3">3</text>
<text x="361.5" y="332.7" font-size="12" text-anchor="start" font-weight="normal" fill="#1a1a1a" stroke="#1a1a1a" stroke-width="0.3" textLength="12.7" lengthAdjust="spacingAndGlyphs">10</text>
<text x="374.7" y="327.5" font-size="8.5" text-anchor="start" font-weight="normal" fill="#1a1a1a" stroke="#1a1a1a" stroke-width="0.3">4</text>
<text x="457.5" y="332.7" font-size="12" text-anchor="start" font-weight="normal" fill="#1a1a1a" stroke="#1a1a1a" stroke-width="0.3" textLength="12.7" lengthAdjust="spacingAndGlyphs">10</text>
<text x="470.7" y="327.5" font-size="8.5" text-anchor="start" font-weight="normal" fill="#1a1a1a" stroke="#1a1a1a" stroke-width="0.3">5</text>
<text x="285.9" y="352.7" font-size="14" text-anchor="start" font-weight="normal" fill="#1a1a1a" stroke="#1a1a1a" stroke-width="0.3" textLength="31.4" lengthAdjust="spacingAndGlyphs">CD38</text>
<text x="194.5" y="256.3" font-size="11.5" text-anchor="start" font-weight="normal" fill="#1a1a1a" stroke="#1a1a1a" stroke-width="0.3" textLength="33" lengthAdjust="spacingAndGlyphs">T cells</text>
<text x="266.2" y="256.3" font-size="11.5" text-anchor="start" font-weight="normal" fill="#1a1a1a" stroke="#1a1a1a" stroke-width="0.3" textLength="33.8" lengthAdjust="spacingAndGlyphs">B cells</text>
<text x="385.6" y="276.7" font-size="11.5" text-anchor="start" font-weight="normal" fill="#1a1a1a" stroke="#1a1a1a" stroke-width="0.3" textLength="40.9" lengthAdjust="spacingAndGlyphs">NK cells</text>
<text x="310.8" y="295.8" font-size="11.5" text-anchor="start" font-weight="normal" fill="#1a1a1a" stroke="#1a1a1a" stroke-width="0.3" textLength="54.6" lengthAdjust="spacingAndGlyphs">Monocytes</text>
<text x="11.3" y="394.6" font-size="17.5" text-anchor="start" font-weight="bold" fill="#000">B</text>
<text x="240.8" y="393.6" font-size="14.2" text-anchor="start" font-weight="normal" fill="#1a1a1a" stroke="#1a1a1a" stroke-width="0.3" textLength="110" lengthAdjust="spacingAndGlyphs">Patients with MM</text>
<text x="68.9" y="494.3" font-size="12" text-anchor="end" font-weight="normal" fill="#1a1a1a" stroke="#1a1a1a" stroke-width="0.3" textLength="20" lengthAdjust="spacingAndGlyphs">200</text>
<text x="68.9" y="587.6" font-size="12" text-anchor="end" font-weight="normal" fill="#1a1a1a" stroke="#1a1a1a" stroke-width="0.3" textLength="19" lengthAdjust="spacingAndGlyphs">100</text>
<text x="68.5" y="680.6" font-size="12" text-anchor="end" font-weight="normal" fill="#1a1a1a" stroke="#1a1a1a" stroke-width="0.3">0</text>
<text transform="translate(40.9,571.8) rotate(-90)" font-size="14" fill="#1a1a1a" stroke="#1a1a1a" stroke-width="0.3" textLength="62.8" lengthAdjust="spacingAndGlyphs">Cell counts</text>
<text x="166.1" y="706.2" font-size="12" text-anchor="middle" font-weight="normal" fill="#1a1a1a" stroke="#1a1a1a" stroke-width="0.3">0</text>
<text x="253.7" y="706.2" font-size="12" text-anchor="start" font-weight="normal" fill="#1a1a1a" stroke="#1a1a1a" stroke-width="0.3" textLength="12.7" lengthAdjust="spacingAndGlyphs">10</text>
<text x="266.9" y="701.0" font-size="8.5" text-anchor="start" font-weight="normal" fill="#1a1a1a" stroke="#1a1a1a" stroke-width="0.3">3</text>
<text x="363.1" y="706.2" font-size="12" text-anchor="start" font-weight="normal" fill="#1a1a1a" stroke="#1a1a1a" stroke-width="0.3" textLength="12.7" lengthAdjust="spacingAndGlyphs">10</text>
<text x="376.3" y="701.0" font-size="8.5" text-anchor="start" font-weight="normal" fill="#1a1a1a" stroke="#1a1a1a" stroke-width="0.3">4</text>
<text x="461.2" y="706.2" font-size="12" text-anchor="start" font-weight="normal" fill="#1a1a1a" stroke="#1a1a1a" stroke-width="0.3" textLength="12.7" lengthAdjust="spacingAndGlyphs">10</text>
<text x="474.4" y="701.0" font-size="8.5" text-anchor="start" font-weight="normal" fill="#1a1a1a" stroke="#1a1a1a" stroke-width="0.3">5</text>
<text x="285.9" y="726.1" font-size="14" text-anchor="start" font-weight="normal" fill="#1a1a1a" stroke="#1a1a1a" stroke-width="0.3" textLength="31.5" lengthAdjust="spacingAndGlyphs">CD38</text>
<text x="196.2" y="619.5" font-size="11.5" text-anchor="start" font-weight="normal" fill="#1a1a1a" stroke="#1a1a1a" stroke-width="0.3" textLength="32.5" lengthAdjust="spacingAndGlyphs">T cells</text>
<text x="272.0" y="619.5" font-size="11.5" text-anchor="start" font-weight="normal" fill="#1a1a1a" stroke="#1a1a1a" stroke-width="0.3" textLength="33.5" lengthAdjust="spacingAndGlyphs">B cells</text>
<text x="389.2" y="618.8" font-size="11.5" text-anchor="start" font-weight="normal" fill="#1a1a1a" stroke="#1a1a1a" stroke-width="0.3" textLength="41.6" lengthAdjust="spacingAndGlyphs">NK cells</text>
<text x="309.2" y="658.8" font-size="11.5" text-anchor="start" font-weight="normal" fill="#1a1a1a" stroke="#1a1a1a" stroke-width="0.3" textLength="54.7" lengthAdjust="spacingAndGlyphs">Monocytes</text>
<text x="447.4" y="641.5" font-size="11.5" text-anchor="start" font-weight="normal" fill="#1a1a1a" stroke="#1a1a1a" stroke-width="0.3" textLength="37.2" lengthAdjust="spacingAndGlyphs">Plasma</text>
<text x="455.4" y="655.7" font-size="11.5" text-anchor="start" font-weight="normal" fill="#1a1a1a" stroke="#1a1a1a" stroke-width="0.3" textLength="21.8" lengthAdjust="spacingAndGlyphs">cells</text>
<text x="10.8" y="771.7" font-size="17.5" text-anchor="start" font-weight="bold" fill="#000">C</text>
<text x="200.2" y="771.0" font-size="14.6" text-anchor="start" font-weight="normal" fill="#1a1a1a" stroke="#1a1a1a" stroke-width="0.3" textLength="56.7" lengthAdjust="spacingAndGlyphs">CD38 MFI</text>
<path d="M95,779.5 V1012.3 H363.3" fill="none" stroke="#111" stroke-width="1.5"/>
<path d="M88,1012.30 H95 M88,936.05 H95 M88,859.80 H95 M88,783.55 H95" stroke="#111" stroke-width="1.3"/>
<text x="82.0" y="787.1" font-size="11.5" text-anchor="end" font-weight="normal" fill="#1a1a1a" stroke="#1a1a1a" stroke-width="0.3" textLength="34.5" lengthAdjust="spacingAndGlyphs">30&#8201;000</text>
<text x="82.0" y="863.3" font-size="11.5" text-anchor="end" font-weight="normal" fill="#1a1a1a" stroke="#1a1a1a" stroke-width="0.3" textLength="34.5" lengthAdjust="spacingAndGlyphs">20&#8201;000</text>
<text x="82.0" y="939.5" font-size="11.5" text-anchor="end" font-weight="normal" fill="#1a1a1a" stroke="#1a1a1a" stroke-width="0.3" textLength="34.0" lengthAdjust="spacingAndGlyphs">10&#8201;000</text>
<text x="82.0" y="1015.4" font-size="12" text-anchor="end" font-weight="normal" fill="#1a1a1a" stroke="#1a1a1a" stroke-width="0.3">0</text>
<text transform="translate(40.8,905.4) rotate(-90)" font-size="13.5" fill="#1a1a1a" stroke="#1a1a1a" stroke-width="0.3" textLength="20" lengthAdjust="spacingAndGlyphs">MFI</text>
<path d="M94.90,1012.3 V1016.4 M100.50,1012.3 V1016.4 M106.60,1012.3 V1016.4 M112.80,1012.3 V1016.4 M124.70,1012.3 V1016.4 M130.20,1012.3 V1016.4 M135.70,1012.3 V1016.4 M141.50,1012.3 V1016.4 M147.00,1012.3 V1016.4 M152.50,1012.3 V1016.4 M158.70,1012.3 V1016.4 M164.50,1012.3 V1016.4 M170.80,1012.3 V1016.4 M182.00,1012.3 V1016.4 M187.70,1012.3 V1016.4 M193.30,1012.3 V1016.4 M199.30,1012.3 V1016.4 M205.00,1012.3 V1016.4 M210.60,1012.3 V1016.4 M216.60,1012.3 V1016.4 M222.70,1012.3 V1016.4 M233.40,1012.3 V1016.4 M239.70,1012.3 V1016.4 M245.90,1012.3 V1016.4 M252.20,1012.3 V1016.4 M258.30,1012.3 V1016.4 M264.30,1012.3 V1016.4 M270.40,1012.3 V1016.4 M275.80,1012.3 V1016.4 M286.50,1012.3 V1016.4 M292.60,1012.3 V1016.4 M298.00,1012.3 V1016.4 M303.80,1012.3 V1016.4 M310.00,1012.3 V1016.4 M315.40,1012.3 V1016.4 M320.80,1012.3 V1016.4 M326.20,1012.3 V1016.4 M331.50,1012.3 V1016.4 M337.70,1012.3 V1016.4 M343.10,1012.3 V1016.4 M348.50,1012.3 V1016.4 M353.80,1012.3 V1016.4 M359.20,1012.3 V1016.4 M120.80,1012.3 V1019.6 M174.40,1012.3 V1019.6 M227.60,1012.3 V1019.6 M281.00,1012.3 V1019.6 M334.60,1012.3 V1019.6" stroke="#111" stroke-width="1.4"/>
<text x="102.8" y="1033.7" font-size="12" text-anchor="start" font-weight="normal" fill="#1a1a1a" stroke="#1a1a1a" stroke-width="0.3" textLength="30.9" lengthAdjust="spacingAndGlyphs">CD38</text>
<text x="133.9" y="1029.6" font-size="8.5" text-anchor="start" font-weight="normal" fill="#1a1a1a" stroke="#1a1a1a" stroke-width="0.3">+</text>
<text x="106.5" y="1048.6" font-size="12" text-anchor="start" font-weight="normal" fill="#1a1a1a" stroke="#1a1a1a" stroke-width="0.3" textLength="30.3" lengthAdjust="spacingAndGlyphs">Tregs</text>
<text x="158.9" y="1033.9" font-size="12" text-anchor="start" font-weight="normal" fill="#1a1a1a" stroke="#1a1a1a" stroke-width="0.3" textLength="31.4" lengthAdjust="spacingAndGlyphs">Bregs</text>
<text x="218.5" y="1033.9" font-size="12" text-anchor="start" font-weight="normal" fill="#1a1a1a" stroke="#1a1a1a" stroke-width="0.3" textLength="16.1" lengthAdjust="spacingAndGlyphs">NK</text>
<text x="263.4" y="1033.9" font-size="12" text-anchor="start" font-weight="normal" fill="#1a1a1a" stroke="#1a1a1a" stroke-width="0.3" textLength="35.8" lengthAdjust="spacingAndGlyphs">B cells</text>
<text x="317.6" y="1033.9" font-size="12" text-anchor="start" font-weight="normal" fill="#1a1a1a" stroke="#1a1a1a" stroke-width="0.3" textLength="33.9" lengthAdjust="spacingAndGlyphs">T cells</text>
<g fill="#000"><circle cx="115.2" cy="956.2" r="5.6"/><circle cx="108.8" cy="960.2" r="5.6"/><circle cx="128.5" cy="956.2" r="5.6"/><circle cx="133.1" cy="960.8" r="5.6"/><circle cx="114.2" cy="966.5" r="5.6"/><circle cx="116.3" cy="961.5" r="5.6"/><circle cx="128.3" cy="964.3" r="5.6"/><circle cx="119.2" cy="973.5" r="5.6"/><circle cx="125" cy="971.2" r="5.6"/><circle cx="129" cy="979.8" r="5.6"/><circle cx="114" cy="991.3" r="5.6"/><circle cx="175.3" cy="811.4" r="5.6"/><circle cx="167.3" cy="911.2" r="5.6"/><circle cx="170.2" cy="918.7" r="5.6"/><circle cx="182.3" cy="912.9" r="5.6"/><circle cx="180" cy="925" r="5.6"/><circle cx="182.3" cy="930.8" r="5.6"/><circle cx="167.3" cy="944" r="5.6"/><circle cx="228.3" cy="868.9" r="5.6"/><circle cx="228.3" cy="896.2" r="5.6"/><circle cx="235.3" cy="906.7" r="5.6"/><circle cx="220.4" cy="914.2" r="5.6"/><circle cx="239.2" cy="916.6" r="5.6"/><circle cx="217.1" cy="926.4" r="5.6"/><circle cx="228.3" cy="931.1" r="5.6"/><circle cx="220.4" cy="953.4" r="5.6"/><circle cx="223.7" cy="956.7" r="5.6"/><circle cx="231.6" cy="952.1" r="5.6"/><circle cx="235.5" cy="950.1" r="5.6"/><circle cx="239.2" cy="960" r="5.6"/><circle cx="217.1" cy="971.8" r="5.6"/><circle cx="228.3" cy="973.4" r="5.6"/><circle cx="235.5" cy="981.1" r="5.6"/><circle cx="220.4" cy="989.6" r="5.6"/><circle cx="270.6" cy="981.3" r="5.6"/><circle cx="290.8" cy="979.6" r="5.6"/><circle cx="275.8" cy="986.5" r="5.6"/><circle cx="285" cy="984.8" r="5.6"/><circle cx="270" cy="994.6" r="5.6"/><circle cx="291.9" cy="993.5" r="5.6"/><circle cx="278.1" cy="1001.5" r="5.6"/><circle cx="285" cy="1002.7" r="5.6"/><circle cx="274.6" cy="999.2" r="5.6"/><circle cx="281.5" cy="1003.8" r="5.6"/><circle cx="289.6" cy="998.1" r="5.6"/><circle cx="280.4" cy="991.2" r="5.6"/><circle cx="281.5" cy="983.5" r="5.6"/><circle cx="324" cy="998.1" r="5.6"/><circle cx="345.4" cy="999.8" r="5.6"/><circle cx="328.1" cy="1005" r="5.6"/><circle cx="333.8" cy="1007.3" r="5.6"/><circle cx="339.6" cy="1006.2" r="5.6"/><circle cx="331.5" cy="1003.8" r="5.6"/><circle cx="341.9" cy="1002.7" r="5.6"/><circle cx="325.8" cy="1001.5" r="5.6"/></g>
<path d="M103,966.9 H138.8 M156.3,907.5 H192.1 M209.2,939.9 H244.7 M262.8,990.6 H299.4 M316.5,1003.8 H352.3" stroke="#000" stroke-width="1.6"/>
</svg>
</body></html>
